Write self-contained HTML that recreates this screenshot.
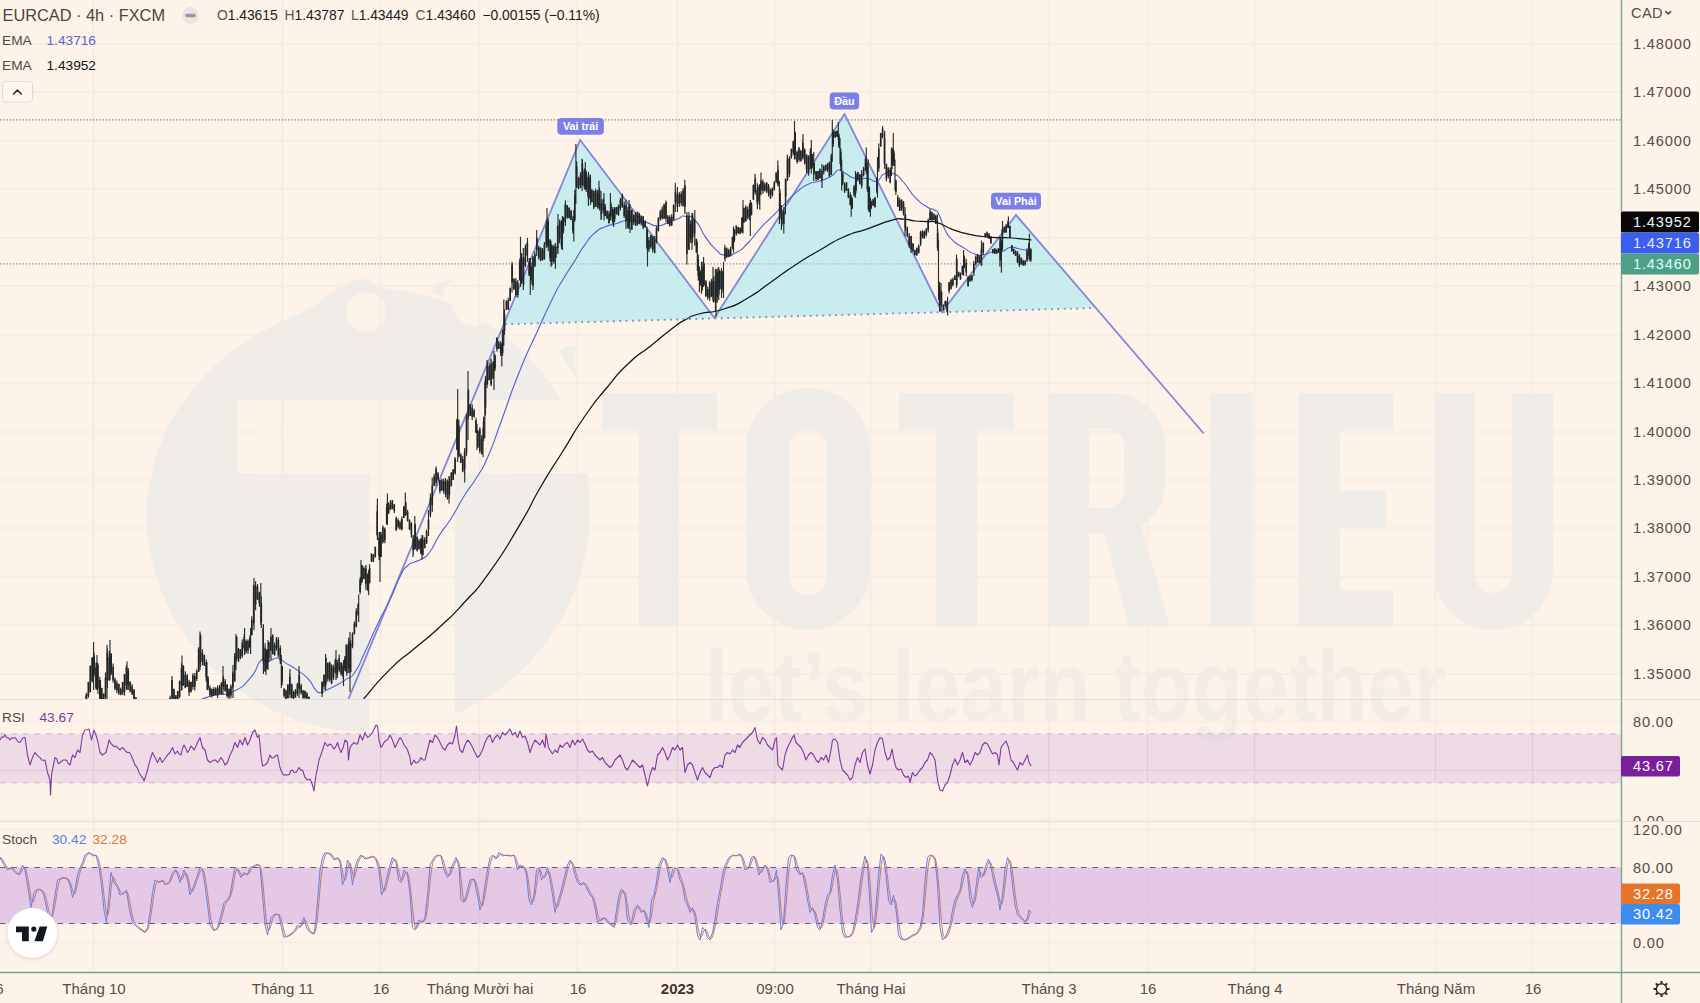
<!DOCTYPE html>
<html><head><meta charset="utf-8"><title>EURCAD</title>
<style>
html,body{margin:0;padding:0;background:#fdf3e9;}
body{width:1700px;height:1003px;overflow:hidden;position:relative;font-family:"Liberation Sans",sans-serif;}
svg{position:absolute;left:0;top:0;}
text{font-family:"Liberation Sans",sans-serif;}
</style></head><body>
<svg width="1700" height="1003" viewBox="0 0 1700 1003">
<defs>
<clipPath id="cm"><rect x="0" y="0" width="1621.5" height="699"/></clipPath>
<clipPath id="cr"><rect x="0" y="699" width="1621.5" height="122"/></clipPath>
<clipPath id="cs"><rect x="0" y="821" width="1621.5" height="151.5"/></clipPath>
<filter id="sh" x="-30%" y="-30%" width="160%" height="160%"><feGaussianBlur stdDeviation="1.6"/></filter>
</defs>
<rect width="1700" height="1003" fill="#fdf3e9"/>

<g fill="#f0ede8">
<path d="M146,510 C150,470 160,445 164,435 C175,410 188,395 201,380 C220,358 240,345 260,333 C275,324 290,318 303,312 C315,306 322,300 328,296 C336,290 342,286 346,284 C352,281 358,279 366,279 C372,283 380,287 388,289 A222,222 0 0 1 590,510 A222,222 0 0 1 146,510 Z"/>
<path d="M430,292 C436,284 444,280 452,280 C446,284 444,290 444,296 Z"/>
<path d="M560,352 C566,346 572,344 576,346 C574,356 574,368 578,382 C572,372 566,362 560,352 Z"/>
</g>
<g fill="#fdf3e9" opacity="0.9">
<rect x="237" y="400" width="360" height="73.5"/>
<rect x="369" y="473" width="86" height="262"/>
<circle cx="366" cy="312" r="20"/>
<circle cx="475" cy="303" r="23"/>
</g>
<g fill="#f0ede8">
<path d="M602,393 H717 V430 H679 V627 H639 V430 H602 Z"/>
<path fill-rule="evenodd" d="M746,448 a62,60 0 0 1 124,0 V570 a62,60 0 0 1 -124,0 Z M789,449 a19,19 0 0 1 38,0 V576 a19,19 0 0 1 -38,0 Z"/>
<path d="M899,393 H1014 V430 H977 V627 H936 V430 H899 Z"/>
<path fill-rule="evenodd" d="M1049,393 H1112 a53,53 0 0 1 53,53 V485 a46,46 0 0 1 -24,40 L1170,627 H1129 L1104,533 H1089 V627 H1049 Z M1089,428 V508 H1106 a18,18 0 0 0 18,-18 V446 a18,18 0 0 0 -18,-18 Z"/>
<rect x="1210" y="393" width="43" height="234"/>
<path d="M1298.5,393 H1393 V430 H1340 V491 H1386 V527.5 H1340 V590 H1393 V627 H1298.5 Z"/>
<path d="M1434.5,393 H1474.5 V574 a18.5,19 0 0 0 37,0 V393 H1553 V571 a59.25,59 0 0 1 -118.5,0 Z"/>
</g>
<text x="705" y="721" font-size="100" font-weight="700" fill="#f3ede7" textLength="741" lengthAdjust="spacingAndGlyphs">let’s learn together</text>
<g stroke="#f5ebe3" stroke-width="1.7">
<line x1="0" y1="44" x2="1621.5" y2="44"/>
<line x1="0" y1="92" x2="1621.5" y2="92"/>
<line x1="0" y1="141" x2="1621.5" y2="141"/>
<line x1="0" y1="189" x2="1621.5" y2="189"/>
<line x1="0" y1="238" x2="1621.5" y2="238"/>
<line x1="0" y1="286" x2="1621.5" y2="286"/>
<line x1="0" y1="335" x2="1621.5" y2="335"/>
<line x1="0" y1="383" x2="1621.5" y2="383"/>
<line x1="0" y1="432" x2="1621.5" y2="432"/>
<line x1="0" y1="480" x2="1621.5" y2="480"/>
<line x1="0" y1="528" x2="1621.5" y2="528"/>
<line x1="0" y1="577" x2="1621.5" y2="577"/>
<line x1="0" y1="625" x2="1621.5" y2="625"/>
<line x1="0" y1="674" x2="1621.5" y2="674"/>
<line x1="0" y1="721.5" x2="1621.5" y2="721.5"/>
<line x1="0" y1="770.5" x2="1621.5" y2="770.5"/>
<line x1="0" y1="819.5" x2="1621.5" y2="819.5"/>
<line x1="0" y1="829.5" x2="1621.5" y2="829.5"/>
<line x1="0" y1="867.5" x2="1621.5" y2="867.5"/>
<line x1="0" y1="904.5" x2="1621.5" y2="904.5"/>
<line x1="0" y1="942.5" x2="1621.5" y2="942.5"/>
<line x1="93.5" y1="0" x2="93.5" y2="972.5"/>
<line x1="282.5" y1="0" x2="282.5" y2="972.5"/>
<line x1="380.5" y1="0" x2="380.5" y2="972.5"/>
<line x1="479.5" y1="0" x2="479.5" y2="972.5"/>
<line x1="577.5" y1="0" x2="577.5" y2="972.5"/>
<line x1="677.5" y1="0" x2="677.5" y2="972.5"/>
<line x1="774.5" y1="0" x2="774.5" y2="972.5"/>
<line x1="870.5" y1="0" x2="870.5" y2="972.5"/>
<line x1="1048.5" y1="0" x2="1048.5" y2="972.5"/>
<line x1="1147.5" y1="0" x2="1147.5" y2="972.5"/>
<line x1="1254.5" y1="0" x2="1254.5" y2="972.5"/>
<line x1="1435.5" y1="0" x2="1435.5" y2="972.5"/>
<line x1="1532.5" y1="0" x2="1532.5" y2="972.5"/>
</g>
<g stroke="#e4dcd8" stroke-width="1"><line x1="0" y1="699.5" x2="1700" y2="699.5"/><line x1="0" y1="821.5" x2="1700" y2="821.5"/></g>
<rect x="0" y="734" width="1621.5" height="49" fill="rgb(213,174,224)" fill-opacity="0.35"/>
<g stroke="#c9b6c8" stroke-width="1" stroke-dasharray="5.5,6"><line x1="0" y1="733.8" x2="1621.5" y2="733.8"/><line x1="0" y1="782.8" x2="1621.5" y2="782.8"/></g>
<rect x="0" y="867.5" width="1621.5" height="56" fill="#e5c8e6"/>
<g stroke="#6d5878" stroke-width="1.2" stroke-dasharray="5.5,6"><line x1="0" y1="867.5" x2="1621.5" y2="867.5"/><line x1="0" y1="923.5" x2="1621.5" y2="923.5"/></g>
<g stroke="#d9c4d9" stroke-width="1" opacity="0.6">
<line x1="93.5" y1="734" x2="93.5" y2="783"/><line x1="93.5" y1="868" x2="93.5" y2="923"/>
<line x1="282.5" y1="734" x2="282.5" y2="783"/><line x1="282.5" y1="868" x2="282.5" y2="923"/>
<line x1="380.5" y1="734" x2="380.5" y2="783"/><line x1="380.5" y1="868" x2="380.5" y2="923"/>
<line x1="479.5" y1="734" x2="479.5" y2="783"/><line x1="479.5" y1="868" x2="479.5" y2="923"/>
<line x1="577.5" y1="734" x2="577.5" y2="783"/><line x1="577.5" y1="868" x2="577.5" y2="923"/>
<line x1="677.5" y1="734" x2="677.5" y2="783"/><line x1="677.5" y1="868" x2="677.5" y2="923"/>
<line x1="774.5" y1="734" x2="774.5" y2="783"/><line x1="774.5" y1="868" x2="774.5" y2="923"/>
<line x1="870.5" y1="734" x2="870.5" y2="783"/><line x1="870.5" y1="868" x2="870.5" y2="923"/>
<line x1="1048.5" y1="734" x2="1048.5" y2="783"/><line x1="1048.5" y1="868" x2="1048.5" y2="923"/>
<line x1="1147.5" y1="734" x2="1147.5" y2="783"/><line x1="1147.5" y1="868" x2="1147.5" y2="923"/>
<line x1="1254.5" y1="734" x2="1254.5" y2="783"/><line x1="1254.5" y1="868" x2="1254.5" y2="923"/>
<line x1="1435.5" y1="734" x2="1435.5" y2="783"/><line x1="1435.5" y1="868" x2="1435.5" y2="923"/>
<line x1="1532.5" y1="734" x2="1532.5" y2="783"/><line x1="1532.5" y1="868" x2="1532.5" y2="923"/>
<line x1="0" y1="770.5" x2="1621.5" y2="770.5"/><line x1="0" y1="904.5" x2="1621.5" y2="904.5"/>
</g>
<line x1="0" y1="119.8" x2="1621.5" y2="119.8" stroke="#7f7b75" stroke-width="1.2" stroke-dasharray="1.3,1.9"/>
<line x1="0" y1="263.8" x2="1621.5" y2="263.8" stroke="#7d9a86" stroke-width="1.2" stroke-dasharray="1.3,1.9"/>
<g clip-path="url(#cm)">
<polygon points="505,324.2 580.2,140 714.5,318 844.5,114 942,312 1016,215 1094.5,308" fill="#95e7f5" fill-opacity="0.5"/>
<line x1="505" y1="324.2" x2="1094.5" y2="308" stroke="#8790bd" stroke-width="1.9" stroke-dasharray="1.9,4.45"/>
<path d="M348.3,699.5 L580.2,140.0 L714.5,318.0 L844.5,114.0 L942.0,312.0 L1016.0,215.0 L1203.7,433.5" fill="none" stroke="#8087d6" stroke-width="1.8" stroke-linejoin="miter"/>
<path d="M202.0,699.0 C206.8,697.6 206.0,697.3 216.5,694.8 C227.0,692.3 222.1,697.1 233.5,691.4 C244.9,685.7 241.5,688.0 250.6,677.7 C259.7,667.4 255.1,666.0 260.8,660.6 C266.5,655.2 261.9,662.4 267.6,661.5 C273.3,660.6 272.2,657.7 277.9,658.0 C283.6,658.3 277.9,658.1 284.7,662.4 C291.5,666.7 290.4,665.2 298.4,670.9 C306.4,676.6 302.9,673.2 308.6,679.4 C314.3,685.6 311.4,685.2 315.4,689.6 C319.4,694.0 317.1,692.4 320.5,692.7 C323.9,693.0 320.5,692.9 325.6,690.5 C330.7,688.1 329.1,689.1 335.9,685.4 C342.7,681.7 339.6,683.9 346.0,679.4 C352.4,674.9 348.7,681.1 355.0,672.0 C361.3,662.9 357.5,667.8 365.0,652.0 C372.5,636.2 369.1,642.0 377.4,624.5 C385.7,607.0 382.5,615.4 390.0,599.6 C397.5,583.8 394.0,588.2 399.8,577.0 C405.6,565.8 402.3,571.0 407.3,566.0 C412.3,561.0 409.8,564.5 414.8,562.0 C419.8,559.5 417.3,561.8 422.3,558.5 C427.3,555.2 423.9,559.9 429.7,552.0 C435.5,544.1 432.3,546.5 439.7,534.8 C447.1,523.1 443.7,530.3 452.0,517.0 C460.3,503.7 456.4,508.3 464.7,495.0 C473.0,481.7 469.0,490.3 477.0,477.0 C485.0,463.7 480.4,474.0 488.6,455.0 C496.8,436.0 491.5,447.7 501.7,420.0 C511.9,392.3 507.6,401.1 519.3,372.0 C531.0,342.9 525.6,357.3 536.8,332.6 C548.0,307.9 544.0,315.9 552.8,298.0 C561.6,280.1 556.3,290.9 563.3,279.0 C570.3,267.1 566.8,273.5 573.8,262.4 C580.8,251.3 577.2,255.5 584.2,245.7 C591.2,235.9 587.7,239.3 594.7,233.0 C601.7,226.7 598.2,229.9 605.2,226.8 C612.2,223.7 608.8,225.8 615.7,223.7 C622.6,221.6 619.0,221.6 626.0,220.5 C633.0,219.4 629.6,219.8 636.6,220.5 C643.6,221.2 640.0,220.8 647.0,222.6 C654.0,224.4 650.5,225.8 657.5,225.8 C664.5,225.8 661.0,225.1 668.0,222.6 C675.0,220.1 672.9,220.5 678.5,218.4 C684.1,216.3 679.2,215.6 684.8,216.3 C690.4,217.0 688.2,213.5 695.2,220.5 C702.2,227.5 698.7,227.5 705.7,237.3 C712.7,247.1 709.9,243.9 716.2,249.8 C722.5,255.7 718.0,254.0 724.6,255.0 C731.2,256.0 728.1,256.7 735.9,252.7 C743.7,248.7 739.9,251.0 747.9,243.0 C755.9,235.0 751.8,237.5 759.8,228.8 C767.8,220.1 763.8,224.8 771.8,216.8 C779.8,208.8 775.8,212.9 783.8,204.9 C791.8,196.9 787.7,199.7 795.7,192.9 C803.7,186.1 799.7,188.5 807.7,184.5 C815.7,180.5 811.6,183.8 819.6,181.0 C827.6,178.2 825.2,179.7 831.6,176.0 C838.0,172.3 834.0,170.7 838.8,170.0 C843.6,169.3 840.4,171.0 846.0,173.8 C851.6,176.6 848.3,176.9 855.5,178.5 C862.7,180.1 860.3,177.7 867.5,178.5 C874.7,179.3 871.4,182.6 877.0,181.0 C882.6,179.4 878.7,176.2 884.3,173.8 C889.9,171.4 887.4,171.1 893.8,173.8 C900.2,176.5 896.2,174.0 903.4,182.0 C910.6,190.0 907.4,189.4 915.4,197.7 C923.4,206.0 921.0,202.9 927.3,207.0 C933.6,211.1 930.5,207.5 934.4,210.0 C938.3,212.5 935.4,207.9 938.9,214.4 C942.4,220.9 940.4,220.9 944.9,229.4 C949.4,237.9 946.3,233.8 952.3,239.8 C958.3,245.8 955.3,242.6 962.8,247.3 C970.3,252.0 967.8,251.5 974.8,254.0 C981.8,256.5 977.8,255.5 983.8,254.8 C989.8,254.1 986.7,252.8 992.7,251.8 C998.7,250.8 995.7,253.3 1001.7,251.8 C1007.7,250.3 1004.7,248.2 1010.7,247.3 C1016.7,246.4 1012.7,247.8 1019.7,249.0 C1026.7,250.2 1027.6,250.3 1031.6,251.0" fill="none" stroke="#5262cc" stroke-width="1.12" stroke-linejoin="round"/>
<path d="M86.5,692.7V703.4M88.4,681.8V697.8M90.3,665.4V692.4M92.2,657.0V682.6M94.1,652.6V676.9M96.0,662.5V689.5M97.9,662.9V694.0M99.8,676.7V700.6M101.7,687.8V709.5M103.6,693.2V707.3M105.5,672.6V701.6M107.4,648.2V688.2M109.3,650.7V680.9M111.2,653.3V675.3M113.1,663.5V682.8M115.0,677.6V690.2M116.9,680.5V693.3M118.8,683.8V695.1M120.7,687.5V695.2M122.6,681.9V695.1M124.5,674.0V695.8M126.4,665.3V689.6M128.3,668.0V689.9M130.2,681.2V692.3M132.1,683.9V694.8M134.0,689.1V702.3M135.9,697.3V708.5M137.8,701.2V712.0M139.7,706.6V716.5M170.1,695.8V706.9M172.0,679.4V701.5M173.9,688.4V707.8M175.8,695.2V708.4M177.7,691.0V703.9M179.6,680.4V698.0M181.5,663.3V690.7M183.4,665.3V685.8M185.3,671.3V688.3M187.2,673.9V687.1M189.1,679.8V696.0M191.0,681.4V692.6M192.9,673.3V689.8M194.8,672.9V690.6M196.7,669.2V680.9M198.6,647.2V672.0M200.5,633.9V666.7M202.4,649.3V665.2M204.3,654.6V666.0M206.2,659.6V681.4M208.1,676.3V690.3M210.0,685.4V697.0M211.9,688.6V697.6M213.8,687.1V696.0M215.7,687.3V695.2M217.6,685.6V698.0M219.5,685.1V694.8M221.4,682.2V694.6M223.3,675.5V689.9M225.2,679.0V691.7M227.1,684.0V697.7M229.0,688.6V699.3M230.9,684.4V698.3M232.8,670.7V689.6M234.7,652.9V681.9M236.6,636.1V661.2M238.5,647.9V662.3M240.4,649.1V659.2M242.3,639.6V657.7M244.2,634.1V649.8M246.1,639.4V653.6M248.0,639.4V653.7M249.9,635.5V648.3M251.8,616.3V635.6M253.7,584.2V625.5M255.6,581.2V610.3M257.5,584.0V600.0M259.4,591.8V606.7M261.3,596.3V628.1M263.2,624.1V664.0M265.1,643.3V671.5M267.0,649.6V668.9M268.9,642.1V662.3M270.8,636.3V651.4M272.7,634.2V654.6M274.6,642.6V655.7M276.5,636.9V650.8M278.4,637.2V657.3M280.3,645.6V664.1M282.2,666.0V684.9M284.1,687.9V697.7M286.0,689.6V699.2M287.9,684.2V698.6M289.8,673.0V695.6M291.7,683.6V698.2M293.6,690.4V699.8M295.5,688.9V697.6M297.4,682.8V695.8M299.3,671.7V693.6M301.2,683.8V694.6M303.1,690.2V698.5M305.0,690.6V698.5M306.9,692.2V699.4M308.8,696.5V705.7M322.1,681.2V697.1M324.0,674.3V689.8M325.9,657.8V685.7M327.8,662.4V681.4M329.7,661.8V681.7M331.6,664.2V684.3M333.5,664.7V679.9M335.4,658.6V673.4M337.3,659.8V677.9M339.2,654.6V672.3M341.1,662.3V675.7M343.0,663.2V678.7M344.9,656.0V671.0M346.8,644.3V675.7M348.7,637.6V673.1M350.6,640.3V672.3M352.5,632.3V648.2M354.4,621.5V634.6M356.3,608.2V627.5M358.2,603.1V615.8M360.1,577.3V594.2M362.0,565.1V582.6M363.9,566.4V579.2M365.8,565.2V587.2M367.7,573.2V591.0M369.6,564.3V583.6M371.5,553.5V562.1M373.4,554.1V561.9M375.3,546.4V557.8M377.2,504.7V536.0M379.1,532.0V560.3M381.0,531.7V557.1M382.9,525.4V543.5M384.8,527.6V543.3M386.7,503.4V524.6M388.6,502.3V514.1M390.5,500.1V510.2M392.4,500.1V509.2M394.3,504.1V513.2M396.2,516.4V530.8M398.1,518.2V528.4M400.0,520.6V529.7M401.9,516.6V530.5M403.8,506.0V518.0M405.7,501.2V516.0M407.6,509.7V521.6M409.5,519.2V530.1M411.4,522.3V537.8M413.3,535.4V554.2M415.2,523.4V549.0M417.1,536.2V551.4M419.0,538.9V549.7M420.9,538.0V554.3M422.8,535.2V555.5M424.7,537.0V548.5M426.6,529.6V543.9M428.5,517.4V529.4M430.4,493.6V517.2M432.3,483.0V511.0M434.2,473.8V486.3M436.1,466.4V485.9M438.0,472.0V481.4M439.9,479.8V493.6M441.8,478.8V490.9M443.7,478.6V493.8M445.6,478.0V497.3M447.5,479.4V499.4M449.4,476.6V497.5M451.3,472.1V486.6M453.2,469.0V479.9M455.1,457.1V474.4M457.0,418.4V450.0M458.9,419.7V457.5M460.8,453.3V463.1M462.7,456.1V472.2M464.6,450.3V474.3M466.5,413.9V456.3M468.4,389.1V419.5M470.3,404.3V415.9M472.2,404.3V419.9M474.1,408.8V417.4M476.0,417.7V432.8M477.9,429.9V448.0M479.8,427.3V453.2M481.7,435.3V454.4M483.6,416.7V441.3M485.5,375.7V415.4M487.4,361.5V384.8M489.3,362.8V380.2M491.2,358.8V385.7M493.1,361.3V379.3M495.0,354.6V371.0M496.9,337.6V351.5M498.8,340.8V348.7M500.7,341.3V356.1M502.6,329.4V355.8M504.5,309.3V335.1M506.4,300.3V310.1M508.3,297.8V309.8M510.2,287.4V301.0M512.1,262.8V287.8M514.0,278.3V289.8M515.9,278.0V296.9M517.8,280.0V297.7M519.7,258.5V280.4M521.6,253.1V284.0M523.5,256.6V286.2M525.4,244.5V267.2M527.3,241.4V255.9M529.2,257.9V275.8M531.1,262.6V284.6M533.0,256.4V287.0M534.9,251.4V267.3M536.8,237.2V252.7M538.7,245.5V259.6M540.6,247.3V261.3M542.5,247.9V260.6M544.4,241.9V259.7M546.3,220.2V248.2M548.2,218.6V251.3M550.1,239.1V261.5M552.0,244.6V265.2M553.9,244.7V263.7M555.8,245.8V258.1M557.7,225.7V253.4M559.6,219.5V243.2M561.5,220.5V249.1M563.4,216.9V233.5M565.3,204.0V222.9M567.2,204.9V218.8M569.1,207.3V218.4M571.0,209.8V220.0M572.9,215.8V233.5M574.8,189.7V221.4M576.7,161.3V188.3M578.6,176.7V189.2M580.5,172.3V188.2M582.4,159.5V185.5M584.3,168.4V189.3M586.2,170.5V191.9M588.1,175.3V197.8M590.0,174.5V199.5M591.9,188.8V202.4M593.8,190.5V209.3M595.7,188.4V207.0M597.6,189.9V208.7M599.5,187.5V210.5M601.4,199.5V218.9M603.3,198.6V213.6M605.2,204.0V216.3M607.1,210.6V219.2M609.0,210.9V223.8M610.9,202.0V220.4M612.8,207.0V223.8M614.7,206.9V221.9M616.6,206.9V214.7M618.5,204.5V215.8M620.4,197.9V210.4M622.3,193.4V207.7M624.2,201.5V218.1M626.1,202.8V222.3M628.0,206.4V228.6M629.9,209.2V224.0M631.8,209.7V229.9M633.7,214.0V224.9M635.6,211.9V225.9M637.5,211.6V225.4M639.4,212.8V224.3M641.3,215.4V225.5M643.2,216.1V229.3M645.1,220.3V227.6M647.0,226.4V249.2M648.9,237.1V251.9M650.8,235.0V248.4M652.7,236.4V252.6M654.6,236.1V253.3M656.5,226.3V243.4M658.4,217.2V231.4M660.3,209.9V220.8M662.2,206.5V219.6M664.1,203.8V218.9M666.0,200.6V222.3M667.9,215.0V224.3M669.8,215.2V226.8M671.7,214.2V225.9M673.6,204.3V220.7M675.5,189.6V203.8M677.4,193.6V209.5M679.3,192.1V206.9M681.2,191.3V205.9M683.1,187.9V206.7M685.0,185.1V212.1M686.9,214.3V264.1M688.8,216.1V249.7M690.7,220.3V242.9M692.6,213.1V242.6M694.5,219.1V236.6M696.4,238.8V252.8M698.3,254.4V280.6M700.2,270.1V285.8M702.1,261.5V290.9M704.0,263.4V286.0M705.9,280.1V297.1M707.8,286.6V299.8M709.7,280.8V300.9M711.6,278.7V297.1M713.5,276.7V302.4M715.4,269.0V311.0M717.3,268.3V302.8M719.2,269.0V294.8M721.1,270.2V289.7M723.0,270.7V292.8M724.9,244.8V261.6M726.8,247.6V257.9M728.7,248.8V257.2M730.6,246.7V256.6M732.5,236.6V249.2M734.4,229.0V242.2M736.3,225.4V235.7M738.2,226.9V233.8M740.1,227.5V234.2M742.0,217.2V232.9M743.9,207.4V223.0M745.8,205.2V221.7M747.7,206.4V219.4M749.6,203.4V220.3M751.5,202.2V215.5M753.4,184.5V200.1M755.3,177.3V194.8M757.2,187.7V203.9M759.1,184.9V204.8M761.0,178.8V192.4M762.9,179.5V193.8M764.8,182.5V191.7M766.7,182.1V193.1M768.6,183.9V196.5M770.5,188.5V198.9M772.4,187.3V196.6M774.3,181.1V190.4M776.2,172.5V183.3M778.1,165.8V186.2M780.0,189.3V219.3M781.9,209.3V225.9M783.8,210.3V226.0M785.7,178.8V201.3M787.6,157.6V180.4M789.5,156.0V177.0M791.4,148.6V158.8M793.3,140.8V155.3M795.2,131.7V159.6M797.1,150.6V163.7M799.0,147.1V161.9M800.9,149.8V161.7M802.8,139.1V159.2M804.7,148.3V164.5M806.6,154.4V172.9M808.5,155.3V175.7M810.4,148.2V169.1M812.3,153.9V168.6M814.2,162.6V175.0M816.1,171.3V180.9M818.0,170.9V180.1M819.9,168.5V178.5M821.8,170.6V181.9M823.7,165.3V174.4M825.6,164.7V170.9M827.5,163.0V171.9M829.4,161.6V176.7M831.3,153.8V175.1M833.2,129.4V147.0M835.1,130.9V138.1M837.0,130.5V137.0M838.9,133.6V148.0M840.8,148.3V171.3M842.7,171.7V185.2M844.6,182.6V192.9M846.5,181.9V191.1M848.4,188.3V198.2M850.3,192.3V205.6M852.2,197.2V209.1M854.1,185.1V196.8M856.0,173.0V192.8M857.9,172.2V181.6M859.8,174.3V184.4M861.7,170.3V188.4M863.6,166.7V176.4M865.5,156.7V171.1M867.4,162.6V192.0M869.3,186.5V212.2M871.2,200.5V208.9M873.1,198.7V205.9M875.0,197.0V207.8M876.9,177.5V193.6M878.8,143.4V171.7M880.7,132.9V147.1M882.6,125.9V138.5M884.5,134.2V165.1M886.4,163.7V181.4M888.3,167.4V178.4M890.2,167.6V183.2M892.1,148.4V169.2M894.0,150.2V166.0M895.9,179.5V195.1M897.8,195.0V206.8M899.7,197.8V210.9M901.6,199.4V210.7M903.5,201.1V215.4M905.4,213.8V231.1M907.3,226.5V237.2M909.2,233.1V248.1M911.1,235.7V253.0M913.0,243.0V252.3M914.9,249.5V255.4M916.8,247.4V256.0M918.7,244.3V253.4M920.6,230.8V246.1M922.5,230.6V238.6M924.4,230.8V238.8M926.3,228.1V236.4M928.2,218.4V232.6M930.1,209.3V220.5M932.0,211.6V220.6M933.9,213.3V220.6M935.8,214.4V224.1M937.7,228.4V251.1M939.6,286.0V306.3M941.5,290.8V307.0M943.4,304.6V310.2M945.3,300.7V306.8M947.2,300.2V312.6M949.1,281.9V293.5M951.0,278.7V289.4M952.9,277.4V286.6M954.8,275.4V280.1M956.7,258.3V285.2M958.6,271.4V277.3M960.5,272.6V279.8M962.4,265.5V274.9M964.3,255.4V268.3M966.2,259.1V276.2M968.1,276.3V286.8M970.0,275.2V281.4M971.9,274.7V281.5M973.8,260.9V276.0M975.7,255.5V265.4M977.6,253.9V262.8M979.5,255.3V263.3M981.4,246.4V265.8M983.3,242.2V255.1M985.2,233.2V237.4M987.1,231.5V237.4M989.0,233.1V239.1M990.9,236.2V243.6M992.8,248.9V253.6M994.7,248.0V253.9M996.6,249.3V254.1M998.5,248.2V252.8M1000.4,238.3V260.4M1002.3,228.5V250.7M1004.2,226.2V233.3M1006.1,223.9V232.7M1008.0,220.3V227.4M1009.9,225.5V237.7M1011.8,245.1V251.7M1013.7,248.4V254.2M1015.6,250.4V256.0M1017.5,251.1V263.3M1019.4,254.1V266.9M1021.3,257.6V264.6M1023.2,259.8V265.6M1025.1,260.1V265.8M1027.0,248.2V261.9M1028.9,242.8V259.1M1030.8,248.2V262.0M86.0,695.0V705.0M93.6,642.0V690.0M97.0,655.0V690.0M100.5,680.0V710.0M107.0,645.0V700.0M110.0,640.0V680.0M127.0,661.5V690.0M172.0,676.0V705.0M182.0,655.5V690.0M200.0,631.6V670.0M207.0,662.0V690.0M223.0,666.0V695.0M233.0,665.0V698.0M236.0,634.0V670.0M244.6,628.0V655.0M250.6,628.0V654.0M254.0,578.0V630.0M260.8,583.0V625.0M263.4,625.0V674.0M266.0,650.0V675.0M268.0,640.0V670.0M271.0,628.0V660.0M281.3,655.0V688.0M290.0,669.0V698.0M299.0,666.0V698.0M325.6,654.0V690.0M336.0,650.0V680.0M343.5,660.0V686.0M346.0,644.5V672.0M350.0,632.0V692.0M358.7,594.6V622.0M361.0,560.0V585.0M366.0,565.0V590.0M368.7,570.0V595.0M377.4,498.6V540.0M380.0,532.0V582.0M387.4,493.6V525.0M405.3,492.4V515.0M413.0,535.0V557.0M414.8,516.0V550.0M422.0,535.0V559.7M428.5,510.0V536.0M432.2,477.5V512.0M449.0,476.0V503.6M457.7,389.0V462.0M464.7,448.0V482.5M468.0,371.0V440.0M477.0,424.0V450.0M483.0,428.0V457.0M484.8,382.0V438.0M487.0,360.0V388.0M491.0,359.0V386.0M494.0,351.0V390.0M501.8,343.0V366.6M503.8,299.6V345.7M512.0,262.0V292.6M520.5,236.8V287.0M523.3,248.0V290.0M527.5,238.0V262.0M530.3,258.0V295.0M533.0,256.0V290.0M536.7,230.0V256.0M547.0,208.0V246.0M551.0,241.0V267.0M555.4,243.0V268.7M558.0,214.0V254.0M562.4,216.0V250.0M565.4,200.6V226.0M573.8,210.0V241.5M575.9,144.0V203.8M582.0,158.7V191.0M585.3,162.0V190.0M588.4,172.0V206.0M590.5,175.0V205.0M599.0,180.7V208.0M601.0,191.0V220.0M604.0,193.0V220.5M610.4,193.0V220.5M613.6,210.0V227.0M626.0,199.6V229.0M629.0,200.0V229.0M630.0,204.0V233.0M647.5,231.0V266.6M675.3,182.8V212.0M677.4,187.0V212.0M684.8,179.7V214.0M686.9,212.0V264.5M689.0,212.0V250.0M692.0,213.0V250.0M694.8,210.0V245.7M697.3,241.5V270.8M699.4,266.6V292.0M701.5,262.0V293.8M703.6,257.0V287.0M713.0,267.0V300.6M716.0,269.5V317.0M718.7,267.0V300.0M721.5,268.0V298.0M723.5,262.0V298.0M733.5,226.4V252.7M743.0,200.0V233.6M750.3,200.0V236.0M755.0,173.8V193.0M757.4,183.3V209.0M759.8,184.0V209.7M761.0,172.6V195.3M777.8,160.6V185.7M779.4,181.0V224.0M781.4,205.0V230.0M783.8,207.0V233.6M785.4,178.5V214.4M787.3,154.6V181.0M794.5,121.0V159.4M803.0,134.0V159.4M811.3,140.0V173.8M813.7,152.0V181.0M822.0,164.0V188.0M832.3,120.0V161.8M838.3,122.0V140.0M840.0,137.9V164.0M841.7,159.4V190.5M851.2,195.0V216.8M855.5,171.0V197.7M866.3,147.4V173.8M868.2,159.4V209.7M870.4,197.7V216.8M877.5,157.0V197.7M884.7,130.7V169.0M891.4,147.4V176.0M893.3,133.0V161.8M895.0,159.4V190.5M905.0,207.0V236.0M937.4,214.4V248.0M938.5,239.8V299.7M939.6,281.7V311.6M941.0,283.0V311.6M947.6,296.7V315.4M956.5,254.8V287.7M963.6,250.0V275.7M981.5,240.6V266.0M999.9,236.8V266.7M1001.4,239.8V272.7M1002.5,221.0V248.8M1008.4,216.6V227.9M1029.4,233.8V260.8" stroke="#2a2e2e" stroke-width="1.15" fill="none"/>
<path d="M86.5,694.3V703.3M88.4,682.0V696.1M90.3,665.8V691.9M92.2,657.7V681.3M94.1,655.7V674.8M96.0,667.6V687.7M97.9,665.0V688.4M99.8,680.0V698.6M101.7,688.1V708.5M103.6,694.1V705.5M105.5,677.7V697.2M107.4,652.8V680.5M109.3,657.2V680.1M111.2,654.0V672.9M113.1,666.8V680.4M115.0,679.5V688.5M116.9,682.8V690.6M118.8,683.9V693.4M120.7,688.9V694.8M122.6,682.0V693.7M124.5,674.2V692.1M126.4,667.4V684.9M128.3,670.6V685.7M130.2,681.9V691.3M132.1,686.2V694.4M134.0,689.8V700.9M135.9,697.3V707.5M137.8,703.4V710.3M139.7,708.0V716.4M170.1,697.9V704.9M172.0,679.9V698.4M173.9,689.3V707.1M175.8,695.2V708.0M177.7,691.0V701.4M179.6,681.4V696.6M181.5,668.4V684.7M183.4,665.7V685.4M185.3,674.4V687.7M187.2,675.5V686.7M189.1,681.7V692.6M191.0,682.1V691.7M192.9,675.3V687.0M194.8,676.1V686.7M196.7,671.3V679.0M198.6,649.2V671.9M200.5,635.8V661.8M202.4,652.6V661.8M204.3,655.2V665.5M206.2,662.6V677.1M208.1,678.3V687.9M210.0,687.7V695.0M211.9,688.9V696.0M213.8,689.0V695.2M215.7,688.6V694.9M217.6,688.1V695.8M219.5,687.2V693.4M221.4,682.5V694.6M223.3,677.2V686.9M225.2,681.3V691.1M227.1,684.7V695.9M229.0,688.9V697.2M230.9,686.2V695.5M232.8,672.7V687.4M234.7,655.7V680.8M236.6,637.1V658.6M238.5,648.9V660.7M240.4,649.3V658.0M242.3,642.7V655.7M244.2,637.3V648.3M246.1,641.0V651.5M248.0,640.9V650.7M249.9,638.1V647.6M251.8,619.8V635.0M253.7,584.9V623.3M255.6,586.2V604.5M257.5,586.3V599.5M259.4,592.6V603.6M261.3,603.2V622.3M263.2,628.6V661.0M265.1,647.8V671.4M267.0,649.6V667.5M268.9,642.4V657.9M270.8,636.7V650.5M272.7,635.4V654.0M274.6,644.9V655.0M276.5,638.7V648.6M278.4,640.2V655.4M280.3,648.2V660.8M282.2,666.3V681.3M284.1,689.1V695.7M286.0,690.7V698.7M287.9,684.4V698.0M289.8,676.8V694.2M291.7,684.7V698.1M293.6,691.9V698.6M295.5,690.7V697.4M297.4,684.3V693.5M299.3,675.0V688.8M301.2,685.5V693.1M303.1,690.3V698.3M305.0,691.1V698.2M306.9,693.6V698.3M308.8,697.1V704.8M322.1,682.1V693.7M324.0,675.1V686.5M325.9,657.9V683.3M327.8,663.2V679.3M329.7,662.2V679.9M331.6,665.6V683.3M333.5,667.2V677.7M335.4,659.9V672.3M337.3,662.7V675.3M339.2,658.1V669.9M341.1,662.7V674.1M343.0,666.0V675.9M344.9,658.3V668.7M346.8,645.3V673.2M348.7,642.0V668.2M350.6,643.7V672.3M352.5,634.1V646.3M354.4,623.6V633.8M356.3,611.3V626.6M358.2,604.5V614.8M360.1,580.1V591.9M362.0,565.6V581.6M363.9,568.0V579.1M365.8,568.4V583.8M367.7,575.2V589.2M369.6,568.1V582.8M371.5,553.6V561.2M373.4,554.9V561.5M375.3,546.9V556.4M377.2,511.3V535.1M379.1,537.5V555.9M381.0,534.5V557.0M382.9,527.2V542.3M384.8,528.7V540.4M386.7,507.3V524.1M388.6,504.7V513.3M390.5,502.3V508.9M392.4,500.7V509.1M394.3,504.6V511.3M396.2,518.0V530.2M398.1,520.2V526.6M400.0,522.5V528.6M401.9,518.8V529.2M403.8,506.7V517.9M405.7,502.7V514.9M407.6,512.3V520.9M409.5,520.5V529.2M411.4,523.0V534.7M413.3,539.2V550.1M415.2,524.5V548.5M417.1,537.0V550.5M419.0,540.7V548.7M420.9,539.4V553.1M422.8,539.5V554.9M424.7,539.2V548.0M426.6,530.9V542.5M428.5,519.7V529.3M430.4,498.3V514.8M432.3,485.4V505.3M434.2,476.4V485.6M436.1,468.7V483.0M438.0,473.3V479.8M439.9,479.9V491.2M441.8,480.5V490.1M443.7,480.7V491.5M445.6,480.3V494.8M447.5,482.1V499.3M449.4,481.0V494.6M451.3,472.9V485.8M453.2,469.7V479.8M455.1,458.7V473.4M457.0,420.0V449.7M458.9,425.4V455.9M460.8,454.4V462.7M462.7,459.0V471.4M464.6,451.8V469.3M466.5,416.0V452.4M468.4,390.1V416.8M470.3,404.6V415.7M472.2,407.4V416.8M474.1,410.6V416.8M476.0,420.2V432.7M477.9,431.4V446.7M479.8,428.9V451.2M481.7,439.3V453.6M483.6,421.2V439.0M485.5,379.0V407.4M487.4,366.1V384.6M489.3,365.7V380.0M491.2,364.2V384.2M493.1,362.7V378.2M495.0,355.5V368.4M496.9,337.7V349.2M498.8,342.4V348.7M500.7,344.4V353.0M502.6,331.9V352.9M504.5,313.9V331.0M506.4,301.6V309.4M508.3,299.9V309.6M510.2,288.1V300.8M512.1,264.6V282.4M514.0,278.9V289.6M515.9,280.9V295.0M517.8,282.4V295.1M519.7,261.7V279.8M521.6,256.9V281.5M523.5,258.2V284.6M525.4,247.4V265.6M527.3,243.0V255.2M529.2,261.8V275.4M531.1,266.6V280.2M533.0,257.2V285.7M534.9,254.6V266.0M536.8,238.1V250.1M538.7,247.4V257.7M540.6,247.7V260.6M542.5,249.7V260.0M544.4,244.5V258.9M546.3,225.1V244.8M548.2,221.4V247.3M550.1,239.9V258.1M552.0,246.0V260.9M553.9,246.2V262.0M555.8,246.8V257.6M557.7,225.8V247.9M559.6,221.7V238.6M561.5,220.6V245.6M563.4,217.2V231.2M565.3,204.6V221.7M567.2,205.3V217.3M569.1,207.8V218.1M571.0,210.9V219.9M572.9,219.3V231.1M574.8,195.2V219.8M576.7,166.2V187.2M578.6,178.1V188.2M580.5,174.9V185.1M582.4,163.8V185.3M584.3,171.1V186.7M586.2,172.5V189.2M588.1,177.5V195.7M590.0,177.2V198.2M591.9,190.2V201.9M593.8,191.0V207.5M595.7,190.4V206.9M597.6,192.9V205.5M599.5,190.1V208.6M601.4,203.1V214.6M603.3,199.3V210.4M605.2,206.5V215.9M607.1,210.7V218.6M609.0,213.4V223.0M610.9,204.0V216.7M612.8,208.9V222.6M614.7,207.5V218.8M616.6,207.2V213.4M618.5,206.1V214.9M620.4,199.5V207.9M622.3,195.4V206.4M624.2,205.1V216.0M626.1,204.7V221.5M628.0,210.4V227.3M629.9,211.1V221.9M631.8,209.8V229.2M633.7,215.2V222.8M635.6,213.9V225.9M637.5,211.9V224.3M639.4,214.3V223.8M641.3,215.7V223.4M643.2,216.4V227.5M645.1,221.0V227.2M647.0,229.3V247.5M648.9,240.2V249.5M650.8,235.1V246.9M652.7,236.6V249.8M654.6,239.6V252.7M656.5,228.2V241.0M658.4,218.2V230.4M660.3,211.8V219.1M662.2,208.7V218.3M664.1,204.6V218.5M666.0,202.2V218.7M667.9,216.4V223.7M669.8,217.2V225.5M671.7,216.7V225.3M673.6,205.2V219.8M675.5,192.0V202.8M677.4,194.4V206.4M679.3,194.3V203.7M681.2,193.5V203.2M683.1,190.2V205.4M685.0,185.5V206.7M686.9,215.4V253.9M688.8,216.3V249.4M690.7,223.8V239.2M692.6,215.4V237.3M694.5,219.4V233.2M696.4,239.2V252.2M698.3,259.3V275.9M700.2,272.3V284.8M702.1,266.4V289.6M704.0,263.5V284.7M705.9,281.5V295.9M707.8,289.1V298.0M709.7,282.7V297.5M711.6,280.9V296.2M713.5,281.3V301.4M715.4,276.1V302.0M717.3,272.1V296.8M719.2,271.0V290.1M721.1,271.4V288.8M723.0,271.3V289.7M724.9,247.4V258.7M726.8,248.5V257.0M728.7,250.5V257.1M730.6,248.6V255.5M732.5,237.2V247.9M734.4,231.2V240.3M736.3,225.8V233.8M738.2,227.1V233.2M740.1,227.7V233.5M742.0,217.8V231.9M743.9,207.9V222.5M745.8,207.1V221.1M747.7,209.2V217.3M749.6,203.8V218.8M751.5,204.3V214.2M753.4,184.9V199.4M755.3,178.9V191.8M757.2,190.0V202.2M759.1,186.7V201.6M761.0,180.5V190.1M762.9,181.8V191.1M764.8,184.2V190.3M766.7,182.9V191.5M768.6,186.1V194.6M770.5,189.5V197.9M772.4,188.7V194.7M774.3,182.7V189.6M776.2,172.6V182.0M778.1,170.0V183.9M780.0,192.9V214.6M781.9,212.3V224.0M783.8,211.0V223.7M785.7,179.4V196.4M787.6,158.9V178.4M789.5,157.9V173.8M791.4,149.1V157.1M793.3,141.5V152.7M795.2,132.5V154.9M797.1,152.0V162.0M799.0,148.3V159.8M800.9,151.1V161.0M802.8,142.8V157.7M804.7,149.7V163.6M806.6,154.4V169.9M808.5,156.6V173.5M810.4,151.2V167.4M812.3,154.0V166.0M814.2,163.0V172.8M816.1,171.3V178.9M818.0,171.1V179.8M819.9,169.3V178.2M821.8,171.0V179.7M823.7,166.6V172.6M825.6,165.0V169.9M827.5,163.9V170.2M829.4,162.3V176.3M831.3,156.0V174.4M833.2,131.5V143.7M835.1,131.6V137.2M837.0,131.1V136.4M838.9,135.6V146.0M840.8,151.7V166.6M842.7,173.2V183.8M844.6,184.2V191.4M846.5,182.6V190.2M848.4,188.7V197.3M850.3,194.7V204.8M852.2,198.5V208.4M854.1,186.8V194.7M856.0,174.3V190.3M857.9,172.3V180.1M859.8,174.4V183.7M861.7,174.0V186.0M863.6,168.6V175.1M865.5,158.9V169.2M867.4,166.9V189.1M869.3,187.5V212.0M871.2,201.7V208.2M873.1,199.6V205.5M875.0,197.8V206.8M876.9,177.7V191.6M878.8,148.4V168.2M880.7,133.0V145.9M882.6,128.6V137.1M884.5,138.6V163.6M886.4,163.7V178.8M888.3,167.6V176.3M890.2,170.1V182.4M892.1,148.6V165.6M894.0,152.8V165.7M895.9,181.1V191.9M897.8,196.9V206.8M899.7,200.2V210.7M901.6,199.8V208.5M903.5,202.2V213.6M905.4,214.4V228.1M907.3,228.0V236.2M909.2,236.2V245.5M911.1,235.9V249.3M913.0,243.7V251.1M914.9,250.3V255.0M916.8,248.1V254.7M918.7,245.9V252.8M920.6,232.2V244.1M922.5,230.7V237.2M924.4,231.8V238.3M926.3,229.4V234.8M928.2,220.1V230.1M930.1,211.6V219.9M932.0,212.5V220.2M933.9,214.6V219.9M935.8,216.0V223.6M937.7,232.8V248.5M939.6,286.8V305.5M941.5,292.1V305.0M943.4,304.8V310.1M945.3,300.9V305.9M947.2,301.8V311.7M949.1,281.9V291.0M951.0,280.1V288.8M952.9,279.3V285.0M954.8,275.6V280.0M956.7,258.8V284.9M958.6,272.0V276.1M960.5,273.6V279.2M962.4,266.0V273.7M964.3,257.3V267.2M966.2,262.7V272.5M968.1,276.8V286.0M970.0,276.4V281.3M971.9,275.6V280.0M973.8,263.4V272.8M975.7,256.8V263.8M977.6,254.4V262.6M979.5,255.8V263.0M981.4,249.5V264.9M983.3,242.9V252.5M985.2,233.4V237.0M987.1,232.6V236.6M989.0,234.2V238.4M990.9,236.6V243.5M992.8,249.1V252.7M994.7,248.2V253.5M996.6,249.5V253.5M998.5,248.3V251.8M1000.4,241.6V259.4M1002.3,229.8V249.7M1004.2,227.8V231.8M1006.1,225.7V232.6M1008.0,221.9V227.4M1009.9,225.9V237.7M1011.8,245.4V251.0M1013.7,249.1V254.0M1015.6,251.3V255.8M1017.5,252.7V262.0M1019.4,255.9V264.9M1021.3,257.9V264.5M1023.2,260.7V265.5M1025.1,261.2V264.7M1027.0,250.9V260.5M1028.9,243.4V256.1M1030.8,249.3V260.2" stroke="#202424" stroke-width="1.6" fill="none"/>
<path d="M363.6,698.9 C372.4,689.1 372.9,686.3 390.0,669.4 C407.1,652.5 398.2,662.3 414.8,648.2 C431.4,634.1 423.1,642.4 439.7,627.0 C456.3,611.6 448.1,620.3 464.7,602.0 C481.3,583.7 471.4,597.7 489.6,572.2 C507.8,546.7 502.1,554.3 519.3,525.6 C536.5,496.9 526.6,510.9 541.2,486.0 C555.8,461.1 548.4,474.3 563.0,451.0 C577.6,427.7 570.3,437.2 585.0,416.0 C599.7,394.8 592.3,405.2 607.0,387.5 C621.7,369.8 614.4,376.9 629.0,363.0 C643.6,349.1 636.3,357.5 650.9,345.8 C665.5,334.1 661.1,336.8 672.8,328.0 C684.5,319.2 677.3,324.2 686.0,319.5 C694.7,314.8 686.3,317.5 699.0,314.0 C711.7,310.5 707.7,314.3 724.0,309.0 C740.3,303.7 732.0,307.2 747.9,298.0 C763.8,288.8 755.9,292.5 771.8,281.4 C787.7,270.3 779.8,275.1 795.7,264.7 C811.6,254.3 803.6,259.5 819.6,250.3 C835.6,241.1 827.6,244.2 843.6,237.0 C859.6,229.8 851.6,234.3 867.5,228.8 C883.4,223.3 879.4,223.6 891.4,220.4 C903.4,217.2 895.5,219.0 903.4,219.2 C911.3,219.4 907.0,220.2 915.0,221.0 C923.0,221.8 919.8,221.1 927.3,221.6 C934.8,222.1 929.1,220.0 937.4,222.6 C945.7,225.2 942.3,225.7 952.3,229.4 C962.3,233.1 957.3,231.4 967.3,233.8 C977.3,236.2 972.3,235.2 982.3,236.5 C992.3,237.8 987.2,237.1 997.2,237.6 C1007.2,238.1 1000.7,237.2 1012.2,238.0 C1023.7,238.8 1025.1,239.3 1031.6,240.0" fill="none" stroke="#151515" stroke-width="1.25" stroke-linejoin="round"/>
</g>
<rect x="557.35" y="117.89999999999999" width="46.5" height="16.8" rx="4" fill="#7b80e6"/>
<text x="580.6" y="130.1" font-size="10.8" font-weight="700" fill="#fff" text-anchor="middle">Vai trái</text>
<rect x="829.65" y="92.6" width="29.5" height="16.8" rx="4" fill="#7b80e6"/>
<text x="844.4" y="104.8" font-size="10.8" font-weight="700" fill="#fff" text-anchor="middle">Đầu</text>
<rect x="991.0" y="192.79999999999998" width="50" height="16.8" rx="4" fill="#7b80e6"/>
<text x="1016" y="205.0" font-size="10.8" font-weight="700" fill="#fff" text-anchor="middle">Vai Phải</text>
<g clip-path="url(#cr)">
<path d="M0.0,740.0 L1.7,737.0 L3.3,737.1 L5.0,735.0 L6.7,737.8 L8.3,737.8 L10.0,740.0 L11.7,737.7 L13.3,738.3 L15.0,737.5 L16.7,739.7 L18.3,742.0 L20.0,742.5 L21.7,739.5 L23.3,737.7 L25.0,737.5 L27.5,755.0 L30.0,765.0 L32.5,757.5 L35.0,752.5 L36.7,754.9 L38.3,756.4 L40.0,757.5 L41.7,760.0 L43.3,760.2 L45.0,760.0 L47.5,772.5 L50.0,780.0 L50.5,795.0 L51.5,775.0 L53.2,766.1 L55.0,757.5 L56.7,758.9 L58.3,763.7 L60.0,762.5 L61.7,761.3 L63.3,760.0 L65.0,760.0 L66.7,760.4 L68.3,763.4 L70.0,765.0 L72.5,755.0 L75.0,757.5 L77.5,750.0 L80.0,752.5 L82.5,735.0 L85.0,730.0 L87.0,729.7 L89.0,729.0 L91.5,740.0 L94.0,730.0 L95.8,734.6 L97.5,740.0 L100.0,752.5 L102.5,755.0 L104.2,753.7 L106.0,752.5 L107.5,746.6 L109.0,740.0 L110.8,743.3 L112.5,745.0 L114.2,746.7 L116.0,746.0 L118.0,748.2 L120.0,750.0 L122.0,747.5 L124.0,749.0 L125.8,751.5 L127.5,752.5 L129.2,752.2 L131.0,755.0 L133.0,759.8 L135.0,765.0 L137.0,767.1 L139.0,772.5 L140.7,775.3 L142.3,777.3 L144.0,781.0 L145.8,775.7 L147.5,770.0 L150.0,760.0 L152.5,752.5 L155.0,757.5 L157.5,762.5 L160.0,757.5 L162.0,762.4 L164.0,760.0 L165.8,757.4 L167.5,755.0 L170.0,752.5 L172.5,747.5 L175.0,754.0 L177.5,751.0 L179.2,753.9 L181.0,755.0 L182.5,748.5 L184.0,745.0 L185.8,748.4 L187.5,752.5 L189.2,750.0 L191.0,746.0 L192.5,747.9 L194.0,750.0 L195.8,746.7 L197.5,742.5 L200.0,737.5 L202.5,747.5 L205.0,750.0 L207.5,760.0 L210.0,762.5 L212.0,761.4 L214.0,760.0 L215.8,760.1 L217.5,762.5 L219.2,760.6 L221.0,757.5 L223.0,760.4 L225.0,765.0 L227.5,762.5 L230.0,755.0 L232.5,750.0 L235.0,742.5 L237.5,747.5 L240.0,740.0 L242.5,745.0 L245.0,737.5 L247.5,745.0 L250.0,740.0 L252.5,732.5 L255.0,730.0 L257.5,737.5 L259.0,735.0 L261.0,755.0 L262.5,766.0 L265.0,765.0 L267.5,762.5 L270.0,755.0 L272.0,758.3 L274.0,757.5 L275.8,755.7 L277.5,755.0 L280.0,767.5 L282.5,774.0 L284.2,775.1 L285.8,774.7 L287.5,775.0 L289.2,774.4 L290.8,771.0 L292.5,770.0 L294.2,772.3 L296.0,772.5 L297.5,769.9 L299.0,767.5 L300.8,770.1 L302.5,770.0 L305.0,777.5 L307.5,780.0 L310.0,779.0 L312.5,785.0 L314.0,791.0 L316.0,775.0 L317.5,768.2 L319.0,760.0 L320.8,755.2 L322.5,750.0 L325.0,742.5 L327.5,746.0 L330.0,744.0 L332.0,745.6 L334.0,749.0 L335.8,746.6 L337.5,742.5 L339.2,748.0 L341.0,752.5 L343.0,748.1 L345.0,740.0 L347.5,742.5 L348.5,760.0 L350.0,747.5 L352.0,744.6 L354.0,742.5 L355.8,743.9 L357.5,744.0 L360.0,735.0 L362.5,740.0 L365.0,732.5 L367.5,737.5 L369.2,736.4 L370.8,734.5 L372.5,732.5 L374.2,729.0 L376.0,725.0 L377.5,726.0 L379.0,740.0 L381.0,747.5 L382.5,745.2 L384.0,742.5 L385.8,740.6 L387.5,740.0 L390.0,735.0 L392.5,740.0 L395.0,747.5 L397.5,742.5 L400.0,737.5 L402.0,740.1 L404.0,745.0 L405.8,747.1 L407.5,750.0 L410.0,757.5 L411.0,765.0 L412.5,763.1 L414.0,760.0 L415.8,762.9 L417.5,762.5 L419.2,761.1 L421.0,757.5 L423.0,759.9 L425.0,760.0 L427.5,750.0 L430.0,740.0 L432.5,742.5 L435.0,735.0 L437.5,737.5 L440.0,742.5 L442.5,747.5 L445.0,750.0 L447.5,745.0 L450.0,742.5 L452.5,744.0 L455.0,735.0 L456.5,726.0 L458.0,740.0 L460.0,750.0 L462.5,752.5 L465.0,745.0 L467.5,740.0 L470.0,742.5 L472.5,747.5 L475.0,752.5 L477.5,757.5 L480.0,755.0 L482.5,750.0 L485.0,742.5 L487.5,737.5 L490.0,735.0 L492.5,742.5 L495.0,737.5 L497.5,735.0 L500.0,739.0 L502.5,732.5 L505.0,735.0 L507.5,732.5 L510.0,729.0 L512.5,735.0 L515.0,732.5 L517.5,737.5 L520.0,731.0 L522.5,737.5 L525.0,736.0 L527.5,742.5 L530.0,752.5 L532.5,745.0 L535.0,740.0 L537.5,742.5 L540.0,745.0 L542.5,740.0 L545.0,747.5 L546.0,734.0 L548.5,747.5 L550.0,750.0 L552.5,754.0 L555.0,750.0 L557.5,752.5 L560.0,745.0 L562.5,747.5 L565.0,744.0 L567.5,742.5 L570.0,747.5 L572.5,740.0 L575.0,745.0 L577.5,740.0 L580.0,742.5 L582.5,739.0 L585.0,744.0 L587.5,750.0 L590.0,752.5 L592.5,751.0 L595.0,755.0 L597.5,757.5 L600.0,760.0 L602.5,757.5 L605.0,762.5 L607.5,765.0 L610.0,767.5 L612.5,765.0 L615.0,760.0 L617.5,757.5 L620.0,755.0 L622.5,760.0 L625.0,767.5 L627.5,770.0 L630.0,765.0 L632.5,760.0 L635.0,762.5 L637.5,765.0 L640.0,767.5 L642.5,765.0 L645.0,775.0 L647.5,786.0 L650.0,775.0 L652.5,767.5 L655.0,770.0 L657.5,755.0 L660.0,752.5 L662.5,747.5 L665.0,752.5 L667.5,760.0 L670.0,755.0 L672.5,747.5 L675.0,750.0 L677.5,745.0 L680.0,750.0 L682.5,747.5 L685.0,772.5 L687.5,765.0 L690.0,762.5 L692.5,765.0 L695.0,772.5 L697.5,780.0 L700.0,772.5 L702.5,767.5 L705.0,772.5 L707.5,775.0 L710.0,777.5 L712.5,770.0 L715.0,767.5 L717.5,767.5 L720.0,765.0 L722.5,767.5 L725.0,755.0 L727.5,752.5 L730.0,754.0 L732.5,750.0 L735.0,752.5 L737.5,745.0 L740.0,747.5 L742.5,742.5 L745.0,740.0 L747.5,737.5 L750.0,735.0 L752.5,732.5 L755.0,727.5 L757.5,740.0 L760.0,744.0 L762.5,737.5 L765.0,740.0 L767.5,745.0 L770.0,747.5 L772.5,750.0 L775.0,740.0 L776.5,737.5 L778.0,765.0 L780.0,767.5 L782.5,770.0 L785.0,755.0 L787.5,747.5 L790.0,742.5 L792.5,737.5 L794.0,735.0 L796.0,742.5 L798.5,745.0 L801.0,747.5 L803.5,752.5 L806.0,760.0 L808.5,755.0 L811.0,752.5 L813.5,755.0 L816.0,760.0 L818.5,762.5 L821.0,757.5 L823.5,760.0 L826.0,755.0 L828.5,762.5 L831.0,750.0 L832.5,740.0 L835.0,739.0 L837.5,742.5 L840.0,760.0 L842.5,770.0 L845.0,772.5 L847.5,775.0 L850.0,780.0 L852.5,777.5 L855.0,765.0 L857.5,757.5 L860.0,762.5 L862.5,752.5 L865.0,749.0 L867.5,765.0 L870.0,774.0 L872.5,765.0 L875.0,750.0 L877.5,742.5 L880.0,737.5 L882.5,739.0 L885.0,752.5 L887.5,760.0 L890.0,757.5 L892.0,749.0 L894.0,760.0 L896.0,767.5 L898.5,770.0 L901.0,769.0 L903.5,775.0 L906.0,777.5 L908.5,776.0 L910.0,782.5 L912.5,772.5 L915.0,776.0 L917.5,774.0 L920.0,770.0 L922.5,767.5 L925.0,762.5 L927.5,760.0 L930.0,752.5 L932.5,755.0 L935.0,760.0 L936.5,772.5 L938.0,782.5 L940.0,790.0 L942.5,791.0 L945.0,785.0 L947.5,782.5 L950.0,775.0 L952.5,765.0 L955.0,759.0 L957.5,765.0 L960.0,760.0 L962.5,752.5 L965.0,762.5 L967.5,760.0 L970.0,765.0 L972.5,760.0 L975.0,752.5 L977.5,755.0 L980.0,752.5 L982.5,745.0 L985.0,742.5 L987.5,744.0 L990.0,749.0 L992.5,754.0 L995.0,752.5 L997.5,755.0 L999.0,765.0 L1001.0,747.5 L1003.5,744.0 L1006.0,741.0 L1008.5,747.5 L1011.0,760.0 L1013.5,762.5 L1016.0,767.5 L1017.5,770.0 L1020.0,762.5 L1022.5,765.0 L1025.0,760.0 L1027.5,755.0 L1029.0,762.5 L1031.0,766.0" fill="none" stroke="#80389f" stroke-width="1.1" stroke-linejoin="round"/>
</g>
<g clip-path="url(#cs)">
<path d="M0.0,857.5 L4.0,865.0 L7.5,870.0 L11.0,867.5 L15.0,872.5 L19.0,875.0 L22.5,865.0 L25.0,870.0 L27.5,885.0 L31.0,907.5 L34.0,892.5 L37.5,889.0 L41.0,890.0 L44.0,895.0 L47.5,912.5 L50.0,920.0 L52.5,912.5 L55.0,895.0 L57.5,880.0 L62.5,877.5 L67.5,879.0 L70.0,885.0 L72.5,897.5 L75.0,890.0 L77.5,875.0 L80.0,867.5 L82.5,862.5 L85.0,855.0 L89.0,852.5 L92.5,856.0 L96.0,855.0 L99.0,867.5 L101.5,885.0 L104.0,910.0 L106.5,922.5 L109.0,895.0 L111.0,872.5 L114.0,882.5 L117.5,887.5 L120.0,895.0 L124.0,892.5 L126.5,890.0 L129.0,907.5 L132.5,922.5 L137.5,927.5 L141.0,930.0 L145.0,932.5 L147.5,927.5 L150.0,912.5 L152.5,892.5 L155.0,880.0 L159.0,882.5 L162.5,880.0 L165.0,885.0 L169.0,882.5 L172.5,872.5 L176.0,870.0 L180.0,882.5 L184.0,870.0 L187.5,880.0 L190.0,895.0 L194.0,885.0 L197.5,875.0 L200.0,867.5 L202.5,870.0 L205.0,885.0 L207.5,905.0 L210.0,925.0 L214.0,931.0 L217.5,927.5 L221.0,915.0 L224.0,902.5 L227.5,900.0 L230.0,895.0 L232.5,880.0 L235.0,867.5 L237.5,870.0 L241.0,877.5 L244.0,872.5 L247.5,875.0 L250.0,867.5 L254.0,866.0 L257.5,864.0 L260.0,867.5 L262.5,895.0 L265.0,925.0 L267.5,935.0 L271.0,917.5 L275.0,914.0 L279.0,915.0 L281.5,927.5 L284.0,937.5 L287.5,936.0 L291.0,934.0 L295.0,930.0 L297.5,925.0 L300.0,927.5 L304.0,917.5 L306.5,927.5 L310.0,932.5 L314.0,934.0 L316.0,920.0 L318.0,895.0 L320.0,870.0 L322.5,857.5 L325.0,852.5 L330.0,854.0 L334.0,860.0 L337.5,857.5 L340.0,862.5 L342.5,885.0 L345.0,877.5 L347.5,860.0 L350.0,865.0 L352.5,885.0 L355.0,867.5 L357.5,860.0 L361.0,855.0 L365.0,859.0 L369.0,857.5 L372.5,856.0 L376.0,860.0 L379.0,870.0 L381.5,895.0 L384.0,890.0 L387.5,875.0 L390.0,865.0 L392.5,857.5 L396.0,862.5 L398.5,880.0 L401.0,882.5 L404.0,870.0 L407.5,875.0 L410.0,895.0 L412.5,927.5 L415.0,930.0 L419.0,920.0 L422.5,922.5 L425.0,917.5 L427.5,895.0 L430.0,865.0 L434.0,857.5 L437.5,855.0 L441.0,856.0 L444.0,870.0 L447.5,877.5 L450.0,872.5 L452.5,865.0 L456.0,857.5 L459.0,867.5 L461.0,900.0 L464.0,902.5 L467.5,890.0 L470.0,880.0 L474.0,879.0 L477.5,895.0 L480.0,910.0 L482.5,902.5 L485.0,885.0 L487.5,870.0 L490.0,857.5 L492.5,855.0 L496.0,859.0 L499.0,852.5 L502.5,856.0 L506.0,855.0 L510.0,856.0 L514.0,855.0 L517.5,870.0 L520.0,865.0 L524.0,867.5 L526.5,875.0 L529.0,900.0 L531.5,905.0 L534.0,895.0 L536.5,870.0 L539.0,867.5 L541.5,880.0 L545.0,875.0 L547.5,867.5 L550.0,880.0 L552.5,895.0 L555.0,912.5 L557.5,902.5 L560.0,895.0 L562.5,885.0 L565.0,875.0 L567.5,865.0 L570.0,860.0 L572.5,865.0 L575.0,875.0 L577.5,882.5 L580.0,885.0 L584.0,882.5 L587.5,890.0 L590.0,895.0 L592.5,897.5 L595.0,907.5 L597.5,922.5 L600.0,920.0 L604.0,917.5 L607.5,922.5 L611.0,925.0 L614.0,927.5 L616.5,910.0 L619.0,895.0 L621.5,889.0 L625.0,895.0 L627.5,920.0 L631.0,925.0 L634.0,910.0 L637.5,905.0 L641.0,912.5 L644.0,910.0 L646.5,920.0 L649.0,927.5 L651.5,900.0 L654.0,895.0 L656.0,885.0 L659.0,865.0 L662.5,857.5 L665.0,860.0 L667.5,870.0 L670.0,882.5 L672.5,870.0 L675.0,867.5 L677.5,870.0 L680.0,880.0 L682.5,885.0 L685.0,900.0 L687.5,905.0 L690.0,912.5 L692.5,907.5 L695.0,917.5 L697.5,935.0 L700.0,940.0 L702.5,927.5 L705.0,930.0 L707.5,937.5 L710.0,940.0 L712.5,932.5 L715.0,920.0 L717.5,902.5 L720.0,890.0 L722.5,875.0 L725.0,865.0 L729.0,857.5 L732.5,855.0 L736.0,856.0 L740.0,854.0 L742.5,860.0 L745.0,870.0 L748.5,867.5 L751.5,857.5 L754.0,856.0 L756.5,865.0 L759.0,875.0 L762.5,867.5 L765.0,865.0 L767.5,870.0 L770.0,882.5 L774.0,880.0 L776.5,870.0 L778.5,895.0 L781.0,930.0 L783.5,922.5 L786.0,885.0 L788.5,857.5 L791.0,855.0 L794.0,856.0 L796.5,870.0 L800.0,875.0 L802.5,872.5 L805.0,885.0 L807.5,900.0 L810.0,912.5 L812.5,907.5 L815.0,915.0 L817.5,927.5 L820.0,930.0 L822.5,920.0 L825.0,905.0 L827.5,895.0 L830.0,892.5 L832.5,875.0 L835.0,865.0 L837.5,880.0 L840.0,910.0 L842.5,932.5 L845.0,937.5 L850.0,936.0 L852.5,932.5 L855.0,920.0 L857.5,905.0 L860.0,885.0 L862.5,867.5 L865.0,856.0 L867.5,865.0 L870.0,905.0 L871.5,932.5 L874.0,927.5 L876.0,905.0 L878.5,875.0 L881.0,854.0 L883.5,857.5 L886.0,875.0 L888.5,900.0 L891.0,905.0 L893.5,895.0 L896.0,910.0 L898.5,935.0 L901.0,939.0 L905.0,940.0 L909.0,937.5 L912.5,935.0 L916.0,934.0 L920.0,927.5 L922.5,915.0 L925.0,880.0 L927.5,857.5 L930.0,855.0 L932.5,856.0 L935.0,860.0 L937.5,885.0 L940.0,927.5 L942.5,940.0 L945.0,937.5 L947.5,932.5 L950.0,925.0 L952.5,910.0 L955.0,900.0 L957.5,895.0 L960.0,890.0 L962.5,875.0 L965.0,869.0 L967.5,875.0 L970.0,900.0 L972.5,907.5 L975.0,895.0 L977.5,875.0 L979.0,867.5 L981.0,877.5 L983.5,875.0 L986.0,865.0 L988.5,859.0 L991.0,867.5 L993.5,880.0 L996.0,890.0 L998.5,900.0 L1000.0,910.0 L1002.5,895.0 L1005.0,870.0 L1007.5,857.5 L1010.0,862.5 L1012.5,885.0 L1015.0,905.0 L1017.5,915.0 L1020.0,917.5 L1022.5,920.0 L1025.0,922.5 L1027.5,917.5 L1029.0,910.0 L1031.0,912.5" fill="none" stroke="#5f82e6" stroke-width="1.0" stroke-linejoin="round"/>
<path d="M0.0,857.5 L1.0,858.0 L2.0,858.9 L3.0,860.3 L4.0,862.2 L5.0,864.0 L6.0,865.6 L7.0,867.1 L8.0,868.3 L9.0,868.9 L10.0,869.0 L11.0,868.6 L12.0,868.3 L13.0,868.6 L14.0,869.4 L15.0,870.6 L16.0,871.7 L17.0,872.7 L18.0,873.4 L19.0,874.1 L20.0,873.8 L21.0,872.7 L22.0,870.7 L23.0,868.5 L24.0,867.4 L25.0,867.6 L26.0,870.0 L27.0,874.0 L28.0,879.1 L29.0,885.2 L30.0,891.5 L31.0,897.9 L32.0,901.4 L33.0,902.1 L34.0,900.0 L35.0,896.0 L36.0,893.0 L37.0,891.0 L38.0,890.2 L39.0,889.6 L40.0,889.4 L41.0,889.6 L42.0,890.2 L43.0,891.2 L44.0,892.5 L45.0,895.0 L46.0,898.3 L47.0,902.5 L48.0,907.2 L49.0,911.5 L50.0,915.2 L51.0,917.0 L52.0,917.0 L53.0,915.0 L54.0,910.5 L55.0,905.0 L56.0,898.8 L57.0,892.2 L58.0,886.7 L59.0,882.8 L60.0,880.2 L61.0,879.0 L62.0,878.5 L63.0,878.1 L64.0,877.9 L65.0,877.9 L66.0,878.1 L67.0,878.4 L68.0,879.0 L69.0,880.0 L70.0,881.7 L71.0,884.5 L72.0,888.1 L73.0,891.5 L74.0,893.5 L75.0,893.5 L76.0,890.8 L77.0,886.2 L78.0,881.4 L79.0,876.5 L80.0,872.4 L81.0,869.2 L82.0,866.8 L83.0,864.4 L84.0,862.0 L85.0,859.4 L86.0,857.1 L87.0,855.3 L88.0,854.1 L89.0,853.4 L90.0,853.2 L91.0,853.4 L92.0,854.0 L93.0,854.8 L94.0,855.4 L95.0,855.6 L96.0,855.4 L97.0,856.3 L98.0,858.2 L99.0,861.2 L100.0,866.1 L101.0,871.7 L102.0,878.4 L103.0,886.5 L104.0,895.4 L105.0,903.8 L106.0,911.2 L107.0,915.5 L108.0,914.5 L109.0,909.5 L110.0,900.4 L111.0,889.3 L112.0,881.8 L113.0,877.8 L114.0,877.5 L115.0,880.4 L116.0,882.7 L117.0,884.6 L118.0,886.3 L119.0,888.3 L120.0,890.7 L121.0,892.6 L122.0,893.8 L123.0,894.1 L124.0,893.4 L125.0,892.7 L126.0,891.9 L127.0,892.0 L128.0,894.0 L129.0,898.0 L130.0,903.3 L131.0,909.0 L132.0,913.9 L133.0,917.8 L134.0,920.9 L135.0,923.1 L136.0,924.5 L137.0,925.5 L138.0,926.5 L139.0,927.4 L140.0,928.2 L141.0,928.9 L142.0,929.6 L143.0,930.3 L144.0,930.9 L145.0,931.6 L146.0,931.5 L147.0,930.8 L148.0,929.0 L149.0,925.5 L150.0,921.0 L151.0,915.0 L152.0,908.0 L153.0,900.9 L154.0,894.0 L155.0,887.9 L156.0,883.9 L157.0,881.7 L158.0,880.9 L159.0,881.6 L160.0,881.9 L161.0,881.8 L162.0,881.4 L163.0,881.1 L164.0,881.4 L165.0,882.3 L166.0,883.3 L167.0,884.0 L168.0,884.1 L169.0,883.4 L170.0,882.3 L171.0,880.5 L172.0,878.2 L173.0,875.6 L174.0,873.6 L175.0,872.1 L176.0,871.1 L177.0,871.3 L178.0,872.5 L179.0,874.7 L180.0,877.8 L181.0,879.4 L182.0,879.4 L183.0,877.8 L184.0,874.7 L185.0,873.1 L186.0,872.9 L187.0,874.3 L188.0,877.5 L189.0,881.6 L190.0,886.4 L191.0,889.9 L192.0,891.6 L193.0,891.2 L194.0,888.8 L195.0,886.2 L196.0,883.5 L197.0,880.7 L198.0,877.8 L199.0,874.9 L200.0,872.0 L201.0,870.0 L202.0,869.0 L203.0,869.6 L204.0,872.5 L205.0,876.6 L206.0,882.5 L207.0,889.5 L208.0,897.0 L209.0,905.0 L210.0,913.0 L211.0,919.4 L212.0,924.1 L213.0,927.2 L214.0,928.8 L215.0,929.6 L216.0,929.9 L217.0,929.5 L218.0,928.2 L219.0,926.2 L220.0,923.6 L221.0,920.4 L222.0,916.6 L223.0,912.8 L224.0,908.8 L225.0,905.4 L226.0,903.0 L227.0,901.4 L228.0,900.6 L229.0,899.4 L230.0,897.8 L231.0,895.0 L232.0,891.0 L233.0,886.1 L234.0,880.5 L235.0,875.1 L236.0,871.5 L237.0,869.5 L238.0,869.1 L239.0,870.6 L240.0,872.3 L241.0,874.3 L242.0,875.5 L243.0,875.7 L244.0,875.0 L245.0,873.9 L246.0,873.5 L247.0,873.6 L248.0,873.8 L249.0,873.1 L250.0,871.5 L251.0,869.7 L252.0,868.0 L253.0,866.9 L254.0,866.6 L255.0,866.1 L256.0,865.7 L257.0,865.1 L258.0,864.8 L259.0,865.0 L260.0,865.6 L261.0,869.2 L262.0,875.4 L263.0,884.1 L264.0,895.5 L265.0,907.1 L266.0,917.0 L267.0,925.0 L268.0,929.9 L269.0,930.5 L270.0,928.9 L271.0,925.0 L272.0,921.0 L273.0,918.1 L274.0,916.2 L275.0,915.3 L276.0,914.7 L277.0,914.4 L278.0,914.4 L279.0,914.6 L280.0,916.1 L281.0,918.7 L282.0,922.4 L283.0,927.0 L284.0,931.4 L285.0,934.4 L286.0,936.2 L287.0,936.9 L288.0,936.4 L289.0,935.9 L290.0,935.4 L291.0,934.9 L292.0,934.2 L293.0,933.4 L294.0,932.5 L295.0,931.5 L296.0,930.2 L297.0,928.8 L298.0,927.4 L299.0,926.5 L300.0,926.4 L301.0,926.1 L302.0,925.4 L303.0,923.8 L304.0,921.2 L305.0,920.4 L306.0,921.1 L307.0,923.2 L308.0,926.2 L309.0,928.6 L310.0,930.4 L311.0,931.5 L312.0,932.4 L313.0,933.1 L314.0,933.4 L315.0,932.0 L316.0,928.7 L317.0,922.1 L318.0,912.4 L319.0,901.2 L320.0,888.8 L321.0,878.1 L322.0,869.4 L323.0,862.9 L324.0,859.0 L325.0,855.9 L326.0,854.1 L327.0,853.2 L328.0,853.0 L329.0,853.2 L330.0,853.5 L331.0,854.1 L332.0,855.0 L333.0,856.2 L334.0,857.8 L335.0,858.7 L336.0,859.1 L337.0,858.9 L338.0,858.6 L339.0,858.9 L340.0,859.8 L341.0,863.2 L342.0,868.8 L343.0,874.5 L344.0,879.0 L345.0,880.5 L346.0,878.0 L347.0,873.0 L348.0,868.1 L349.0,864.5 L350.0,863.1 L351.0,865.5 L352.0,870.5 L353.0,875.1 L354.0,877.5 L355.0,876.1 L356.0,872.0 L357.0,867.0 L358.0,863.2 L359.0,860.8 L360.0,858.8 L361.0,857.1 L362.0,856.3 L363.0,856.1 L364.0,856.5 L365.0,857.5 L366.0,858.2 L367.0,858.5 L368.0,858.4 L369.0,858.1 L370.0,857.7 L371.0,857.3 L372.0,856.9 L373.0,856.6 L374.0,856.8 L375.0,857.3 L376.0,858.3 L377.0,860.0 L378.0,862.2 L379.0,865.0 L380.0,870.0 L381.0,876.7 L382.0,883.5 L383.0,889.0 L384.0,891.5 L385.0,890.4 L386.0,887.3 L387.0,883.6 L388.0,879.3 L389.0,875.1 L390.0,871.0 L391.0,867.2 L392.0,863.8 L393.0,861.1 L394.0,859.7 L395.0,859.5 L396.0,860.4 L397.0,863.2 L398.0,867.4 L399.0,872.2 L400.0,877.0 L401.0,880.2 L402.0,880.7 L403.0,879.1 L404.0,876.2 L405.0,873.5 L406.0,872.1 L407.0,872.1 L408.0,874.4 L409.0,878.3 L410.0,883.8 L411.0,892.2 L412.0,902.8 L413.0,913.0 L414.0,921.5 L415.0,927.0 L416.0,928.6 L417.0,927.9 L418.0,926.2 L419.0,923.8 L420.0,922.1 L421.0,921.2 L422.0,921.1 L423.0,921.4 L424.0,921.1 L425.0,920.2 L426.0,916.8 L427.0,911.2 L428.0,903.6 L429.0,893.5 L430.0,882.6 L431.0,873.5 L432.0,866.6 L433.0,862.2 L434.0,860.3 L435.0,858.7 L436.0,857.4 L437.0,856.4 L438.0,855.8 L439.0,855.5 L440.0,855.4 L441.0,855.6 L442.0,857.0 L443.0,859.4 L444.0,863.0 L445.0,867.0 L446.0,870.4 L447.0,873.2 L448.0,874.8 L449.0,875.4 L450.0,875.0 L451.0,873.2 L452.0,870.8 L453.0,868.1 L454.0,865.4 L455.0,863.0 L456.0,860.7 L457.0,859.9 L458.0,860.5 L459.0,862.5 L460.0,869.1 L461.0,878.9 L462.0,888.0 L463.0,896.6 L464.0,901.2 L465.0,901.0 L466.0,899.6 L467.0,897.1 L468.0,893.5 L469.0,889.8 L470.0,885.9 L471.0,882.9 L472.0,880.8 L473.0,879.6 L474.0,879.4 L475.0,880.3 L476.0,882.5 L477.0,885.9 L478.0,890.6 L479.0,895.7 L480.0,901.2 L481.0,904.8 L482.0,906.2 L483.0,905.0 L484.0,900.5 L485.0,895.0 L486.0,888.8 L487.0,882.2 L488.0,876.1 L489.0,870.5 L490.0,865.1 L491.0,861.0 L492.0,858.0 L493.0,856.3 L494.0,856.1 L495.0,856.4 L496.0,857.3 L497.0,857.6 L498.0,857.1 L499.0,855.8 L500.0,854.4 L501.0,853.8 L502.0,854.0 L503.0,854.8 L504.0,855.4 L505.0,855.6 L506.0,855.4 L507.0,855.3 L508.0,855.3 L509.0,855.4 L510.0,855.6 L511.0,855.8 L512.0,855.8 L513.0,855.6 L514.0,855.4 L515.0,856.3 L516.0,858.3 L517.0,861.4 L518.0,864.9 L519.0,866.9 L520.0,867.2 L521.0,866.7 L522.0,866.0 L523.0,865.9 L524.0,866.6 L525.0,867.8 L526.0,869.6 L527.0,872.9 L528.0,878.5 L529.0,885.9 L530.0,893.0 L531.0,899.0 L532.0,902.2 L533.0,902.0 L534.0,900.2 L535.0,895.5 L536.0,888.5 L537.0,881.1 L538.0,874.5 L539.0,870.1 L540.0,869.5 L541.0,871.5 L542.0,874.2 L543.0,876.8 L544.0,877.8 L545.0,877.1 L546.0,875.3 L547.0,873.1 L548.0,871.5 L549.0,871.5 L550.0,873.5 L551.0,877.8 L552.0,883.2 L553.0,889.1 L554.0,895.5 L555.0,902.1 L556.0,906.2 L557.0,907.8 L558.0,906.6 L559.0,903.0 L560.0,899.6 L561.0,896.2 L562.0,892.8 L563.0,889.0 L564.0,885.0 L565.0,881.0 L566.0,877.0 L567.0,873.0 L568.0,869.2 L569.0,866.0 L570.0,863.2 L571.0,862.0 L572.0,862.0 L573.0,863.2 L574.0,866.0 L575.0,869.2 L576.0,872.8 L577.0,876.2 L578.0,879.2 L579.0,881.5 L580.0,883.2 L581.0,884.1 L582.0,884.3 L583.0,884.1 L584.0,883.4 L585.0,883.5 L586.0,884.3 L587.0,885.7 L588.0,887.8 L589.0,889.9 L590.0,892.0 L591.0,893.8 L592.0,895.2 L593.0,896.9 L594.0,899.0 L595.0,901.9 L596.0,906.0 L597.0,911.0 L598.0,915.6 L599.0,919.0 L600.0,920.6 L601.0,920.6 L602.0,919.8 L603.0,919.1 L604.0,918.4 L605.0,918.3 L606.0,918.7 L607.0,919.6 L608.0,921.0 L609.0,922.1 L610.0,923.1 L611.0,923.9 L612.0,924.7 L613.0,925.4 L614.0,926.2 L615.0,925.1 L616.0,922.0 L617.0,917.1 L618.0,910.5 L619.0,904.1 L620.0,898.9 L621.0,894.7 L622.0,891.9 L623.0,891.1 L624.0,891.2 L625.0,892.4 L626.0,896.2 L627.0,902.1 L628.0,908.9 L629.0,915.7 L630.0,920.4 L631.0,922.9 L632.0,922.7 L633.0,920.9 L634.0,917.5 L635.0,913.4 L636.0,910.2 L637.0,907.9 L638.0,906.9 L639.0,906.8 L640.0,907.6 L641.0,909.3 L642.0,910.7 L643.0,911.3 L644.0,911.2 L645.0,911.6 L646.0,913.2 L647.0,915.9 L648.0,919.5 L649.0,922.9 L650.0,922.5 L651.0,918.5 L652.0,912.1 L653.0,904.5 L654.0,899.1 L655.0,895.2 L656.0,891.8 L657.0,887.1 L658.0,881.2 L659.0,875.0 L660.0,869.5 L661.0,865.1 L662.0,861.8 L663.0,860.0 L664.0,859.1 L665.0,858.9 L666.0,860.2 L667.0,862.8 L668.0,866.1 L669.0,870.5 L670.0,875.1 L671.0,877.5 L672.0,877.5 L673.0,875.5 L674.0,872.0 L675.0,869.5 L676.0,868.5 L677.0,868.5 L678.0,869.4 L679.0,871.5 L680.0,874.4 L681.0,877.5 L682.0,880.5 L683.0,883.5 L684.0,887.0 L685.0,891.5 L686.0,896.0 L687.0,900.0 L688.0,903.1 L689.0,905.5 L690.0,908.1 L691.0,909.8 L692.0,910.2 L693.0,910.2 L694.0,910.5 L695.0,912.2 L696.0,916.2 L697.0,921.8 L698.0,927.4 L699.0,932.5 L700.0,936.4 L701.0,937.2 L702.0,935.8 L703.0,933.2 L704.0,930.5 L705.0,929.2 L706.0,930.0 L707.0,932.0 L708.0,934.2 L709.0,936.5 L710.0,938.2 L711.0,938.5 L712.0,937.5 L713.0,935.2 L714.0,931.5 L715.0,927.2 L716.0,922.0 L717.0,916.0 L718.0,909.8 L719.0,903.5 L720.0,897.8 L721.0,892.2 L722.0,886.8 L723.0,881.2 L724.0,876.0 L725.0,871.2 L726.0,867.5 L727.0,864.6 L728.0,862.2 L729.0,860.3 L730.0,858.7 L731.0,857.4 L732.0,856.4 L733.0,855.8 L734.0,855.5 L735.0,855.4 L736.0,855.6 L737.0,855.7 L738.0,855.6 L739.0,855.2 L740.0,854.8 L741.0,855.0 L742.0,855.9 L743.0,857.8 L744.0,860.8 L745.0,864.2 L746.0,866.8 L747.0,868.5 L748.0,868.9 L749.0,867.9 L750.0,866.2 L751.0,863.8 L752.0,861.2 L753.0,858.9 L754.0,857.2 L755.0,857.4 L756.0,858.9 L757.0,861.5 L758.0,865.2 L759.0,869.0 L760.0,871.5 L761.0,872.4 L762.0,871.8 L763.0,869.8 L764.0,868.1 L765.0,866.6 L766.0,866.2 L767.0,866.8 L768.0,868.4 L769.0,871.5 L770.0,875.4 L771.0,878.6 L772.0,880.8 L773.0,881.6 L774.0,880.9 L775.0,879.5 L776.0,877.2 L777.0,876.1 L778.0,878.2 L779.0,884.8 L780.0,895.8 L781.0,909.2 L782.0,918.8 L783.0,924.2 L784.0,924.0 L785.0,916.5 L786.0,906.0 L787.0,893.5 L788.0,880.5 L789.0,869.8 L790.0,862.5 L791.0,857.8 L792.0,855.8 L793.0,855.5 L794.0,855.5 L795.0,857.1 L796.0,860.1 L797.0,863.9 L798.0,867.9 L799.0,870.9 L800.0,872.9 L801.0,873.7 L802.0,873.9 L803.0,874.2 L804.0,875.5 L805.0,878.2 L806.0,882.8 L807.0,888.2 L808.0,893.9 L809.0,899.5 L810.0,904.9 L811.0,908.2 L812.0,909.8 L813.0,910.1 L814.0,910.0 L815.0,911.1 L816.0,914.0 L817.0,918.0 L818.0,922.0 L819.0,925.5 L820.0,928.0 L821.0,928.2 L822.0,926.8 L823.0,923.8 L824.0,919.0 L825.0,913.8 L826.0,908.5 L827.0,903.5 L828.0,899.4 L829.0,896.5 L830.0,894.4 L831.0,891.5 L832.0,887.5 L833.0,882.4 L834.0,876.5 L835.0,871.4 L836.0,869.5 L837.0,870.5 L838.0,874.8 L839.0,883.0 L840.0,892.8 L841.0,903.2 L842.0,913.8 L843.0,922.6 L844.0,929.0 L845.0,933.6 L846.0,935.9 L847.0,936.8 L848.0,937.0 L849.0,936.8 L850.0,936.5 L851.0,935.9 L852.0,935.0 L853.0,933.5 L854.0,930.7 L855.0,927.0 L856.0,922.2 L857.0,916.8 L858.0,910.8 L859.0,904.0 L860.0,896.8 L861.0,889.2 L862.0,881.8 L863.0,874.8 L864.0,868.7 L865.0,863.2 L866.0,860.4 L867.0,859.9 L868.0,863.0 L869.0,871.2 L870.0,882.5 L871.0,897.6 L872.0,912.2 L873.0,922.3 L874.0,928.0 L875.0,926.2 L876.0,919.6 L877.0,910.4 L878.0,898.8 L879.0,887.5 L880.0,876.8 L881.0,867.0 L882.0,860.6 L883.0,857.1 L884.0,856.8 L885.0,860.3 L886.0,865.2 L887.0,872.2 L888.0,880.8 L889.0,889.0 L890.0,896.0 L891.0,901.0 L892.0,902.5 L893.0,901.5 L894.0,900.2 L895.0,900.0 L896.0,902.2 L897.0,908.0 L898.0,916.0 L899.0,924.0 L900.0,930.8 L901.0,935.5 L902.0,937.9 L903.0,938.8 L904.0,939.4 L905.0,939.6 L906.0,939.7 L907.0,939.5 L908.0,939.1 L909.0,938.4 L910.0,937.8 L911.0,937.1 L912.0,936.4 L913.0,935.8 L914.0,935.2 L915.0,934.8 L916.0,934.4 L917.0,933.8 L918.0,932.9 L919.0,931.6 L920.0,929.9 L921.0,927.5 L922.0,924.2 L923.0,918.9 L924.0,910.5 L925.0,899.9 L926.0,888.2 L927.0,876.8 L928.0,867.5 L929.0,861.5 L930.0,857.5 L931.0,855.9 L932.0,855.5 L933.0,855.8 L934.0,856.6 L935.0,857.8 L936.0,861.3 L937.0,867.1 L938.0,875.9 L939.0,888.5 L940.0,902.9 L941.0,916.0 L942.0,927.0 L943.0,934.2 L944.0,937.0 L945.0,938.2 L946.0,937.8 L947.0,936.2 L948.0,934.4 L949.0,932.0 L950.0,929.4 L951.0,925.8 L952.0,921.2 L953.0,916.2 L954.0,911.0 L955.0,906.2 L956.0,902.5 L957.0,899.5 L958.0,897.0 L959.0,895.0 L960.0,893.0 L961.0,890.0 L962.0,886.0 L963.0,881.5 L964.0,876.8 L965.0,873.0 L966.0,871.4 L967.0,871.4 L968.0,873.5 L969.0,878.8 L970.0,886.0 L971.0,893.2 L972.0,899.8 L973.0,903.5 L974.0,903.5 L975.0,901.5 L976.0,896.8 L977.0,890.2 L978.0,883.4 L979.0,876.5 L980.0,872.9 L981.0,872.5 L982.0,873.5 L983.0,875.5 L984.0,875.6 L985.0,873.5 L986.0,870.6 L987.0,867.4 L988.0,864.2 L989.0,862.1 L990.0,861.9 L991.0,863.1 L992.0,866.2 L993.0,870.4 L994.0,874.9 L995.0,879.5 L996.0,883.9 L997.0,888.0 L998.0,892.0 L999.0,896.3 L1000.0,901.3 L1001.0,903.8 L1002.0,903.8 L1003.0,900.5 L1004.0,893.0 L1005.0,884.5 L1006.0,876.2 L1007.0,868.8 L1008.0,863.4 L1009.0,861.0 L1010.0,860.4 L1011.0,863.2 L1012.0,868.8 L1013.0,875.9 L1014.0,884.5 L1015.0,892.9 L1016.0,900.0 L1017.0,906.0 L1018.0,910.6 L1019.0,913.5 L1020.0,915.6 L1021.0,917.0 L1022.0,918.0 L1023.0,919.0 L1024.0,920.0 L1025.0,921.0 L1026.0,921.2 L1027.0,920.8 L1028.0,919.1 L1029.0,916.0 L1030.0,913.7 L1031.0,912.2" fill="none" stroke="#c06e62" stroke-width="1.0" stroke-linejoin="round" opacity="0.9"/>
</g>
<rect x="1621.5" y="0" width="78.5" height="1003" fill="#fdf3e9"/>
<rect x="0" y="972.5" width="1700" height="30.5" fill="#fdf3e9"/>
<line x1="1621.5" y1="0" x2="1621.5" y2="1003" stroke="#76a591" stroke-width="1.4"/>
<line x1="0" y1="972.5" x2="1700" y2="972.5" stroke="#76a591" stroke-width="1.4"/>
<g stroke="#e4dcd8" stroke-width="1"><line x1="1621.5" y1="699.5" x2="1700" y2="699.5"/><line x1="1621.5" y1="821.5" x2="1700" y2="821.5"/></g>
<g font-size="14.6" fill="#544e48" letter-spacing="0.85">
<text x="1633" y="49.2">1.48000</text>
<text x="1633" y="97.2">1.47000</text>
<text x="1633" y="146.2">1.46000</text>
<text x="1633" y="194.2">1.45000</text>
<text x="1633" y="291.2">1.43000</text>
<text x="1633" y="340.2">1.42000</text>
<text x="1633" y="388.2">1.41000</text>
<text x="1633" y="437.2">1.40000</text>
<text x="1633" y="485.2">1.39000</text>
<text x="1633" y="533.2">1.38000</text>
<text x="1633" y="582.2">1.37000</text>
<text x="1633" y="630.2">1.36000</text>
<text x="1633" y="679.2">1.35000</text>
<text x="1633" y="727.2">80.00</text>
<text x="1633" y="872.7">80.00</text>
<text x="1633" y="947.5">0.00</text>
</g>
<clipPath id="c0"><rect x="1621.5" y="800" width="80" height="21"/></clipPath>
<text x="1633" y="826" font-size="14.6" fill="#544e48" letter-spacing="0.85" clip-path="url(#c0)">0.00</text>
<text x="1633" y="834.6" font-size="14.6" fill="#544e48" letter-spacing="0.85">120.00</text>
<text x="1631" y="18" font-size="14.6" fill="#544e48" letter-spacing="0.4">CAD</text>
<path d="M1665.8,11.6 l2.4,2.3 l2.4,-2.3" fill="none" stroke="#544e48" stroke-width="1.55" stroke-linecap="round" stroke-linejoin="round"/>
<rect x="1621.0" y="211.5" width="78" height="21" rx="2" fill="#070707"/>
<text x="1633" y="227.2" font-size="14.6" fill="#f4f4f4" letter-spacing="0.85">1.43952</text>
<rect x="1621.0" y="232.5" width="78" height="21" rx="2" fill="#3c5eee"/>
<text x="1633" y="248.2" font-size="14.6" fill="#e6ebff" letter-spacing="0.85">1.43716</text>
<rect x="1621.0" y="253.5" width="78" height="21" rx="2" fill="#4d9f88"/>
<text x="1633" y="269.2" font-size="14.6" fill="#dcfff3" letter-spacing="0.85">1.43460</text>
<rect x="1621.0" y="756" width="59" height="20.5" rx="2" fill="#7b209c"/>
<text x="1633" y="771.45" font-size="14.6" fill="#fff" letter-spacing="0.85">43.67</text>
<rect x="1621.0" y="883.5" width="59" height="20.5" rx="2" fill="#e8742a"/>
<text x="1633" y="898.95" font-size="14.6" fill="#fff" letter-spacing="0.85">32.28</text>
<rect x="1621.0" y="904" width="59" height="20.5" rx="2" fill="#3d8df0"/>
<text x="1633" y="919.45" font-size="14.6" fill="#fff" letter-spacing="0.85">30.42</text>
<g font-size="15" fill="#544e48" text-anchor="middle" letter-spacing="0">
<text x="94" y="994.3">Tháng 10</text>
<text x="283" y="994.3">Tháng 11</text>
<text x="381" y="994.3">16</text>
<text x="480" y="994.3">Tháng Mười hai</text>
<text x="578" y="994.3">16</text>
<text x="775" y="994.3">09:00</text>
<text x="871" y="994.3">Tháng Hai</text>
<text x="1049" y="994.3">Tháng 3</text>
<text x="1148" y="994.3">16</text>
<text x="1255" y="994.3">Tháng 4</text>
<text x="1436" y="994.3">Tháng Năm</text>
<text x="1533" y="994.3">16</text>
<text x="677.5" y="994.3" font-weight="700" fill="#3a3632">2023</text>
<text x="-0.5" y="994.3">6</text>
</g>
<g fill="none" stroke="#2c2a28" stroke-width="1.5"><circle cx="1661.5" cy="989" r="5.2"/>
<line x1="1666.90" y1="989.00" x2="1669.50" y2="989.00" stroke-width="2"/>
<line x1="1665.32" y1="992.82" x2="1667.16" y2="994.66" stroke-width="2"/>
<line x1="1661.50" y1="994.40" x2="1661.50" y2="997.00" stroke-width="2"/>
<line x1="1657.68" y1="992.82" x2="1655.84" y2="994.66" stroke-width="2"/>
<line x1="1656.10" y1="989.00" x2="1653.50" y2="989.00" stroke-width="2"/>
<line x1="1657.68" y1="985.18" x2="1655.84" y2="983.34" stroke-width="2"/>
<line x1="1661.50" y1="983.60" x2="1661.50" y2="981.00" stroke-width="2"/>
<line x1="1665.32" y1="985.18" x2="1667.16" y2="983.34" stroke-width="2"/>
</g>
<text x="2.5" y="21.3" font-size="17" fill="#4a4642" textLength="162.5" lengthAdjust="spacingAndGlyphs">EURCAD · 4h · FXCM</text>
<circle cx="190.5" cy="15.5" r="8.5" fill="#ece4df"/><rect x="185.2" y="13.7" width="10.6" height="3.6" rx="1.8" fill="#9a98a8"/>
<g font-size="13.9" letter-spacing="-0.05">
<text x="217" y="20.4" fill="#5a5651">O<tspan fill="#1d1b1a">1.43615</tspan></text>
<text x="284.5" y="20.4" fill="#5a5651">H<tspan fill="#1d1b1a">1.43787</tspan></text>
<text x="351" y="20.4" fill="#5a5651">L<tspan fill="#1d1b1a">1.43449</tspan></text>
<text x="415.5" y="20.4" fill="#5a5651">C<tspan fill="#1d1b1a">1.43460</tspan></text>
<text x="482.5" y="20.4" fill="#1d1b1a">−0.00155 (−0.11%)</text>
</g>
<g font-size="13.7" letter-spacing="0">
<text x="2" y="45.3" fill="#4d4944">EMA</text><text x="46.5" y="45.3" fill="#5566d0">1.43716</text>
<text x="2" y="70.3" fill="#4d4944">EMA</text><text x="46.5" y="70.3" fill="#141414">1.43952</text>
<text x="2" y="722" fill="#4d4944">RSI</text><text x="39.5" y="722" fill="#7d3a9c">43.67</text>
<text x="2" y="844" fill="#4d4944">Stoch</text><text x="52" y="844" fill="#4a86d8">30.42</text><text x="92.5" y="844" fill="#d8763f">32.28</text>
</g>
<rect x="2.5" y="81.5" width="30" height="20.5" rx="3" fill="#fdf5ee" stroke="#e2dad6" stroke-width="1"/>
<path d="M13.5,94 l3.9,-3.9 l3.9,3.9" fill="none" stroke="#2b2b2b" stroke-width="1.5" stroke-linecap="round" stroke-linejoin="round"/>
<circle cx="32.3" cy="933.8" r="25.6" fill="#c9c0c6" opacity="0.55" filter="url(#sh)"/>
<circle cx="32.3" cy="933" r="25" fill="#ffffff"/>
<path d="M16,926.4 H28.8 V941.3 H22 V932.2 H16 Z" fill="#131722"/>
<circle cx="33.8" cy="929.1" r="2.6" fill="#131722"/>
<path d="M39.6,926.4 H47.3 L42.9,941.3 H34.4 Z" fill="#131722"/>
</svg></body></html>
